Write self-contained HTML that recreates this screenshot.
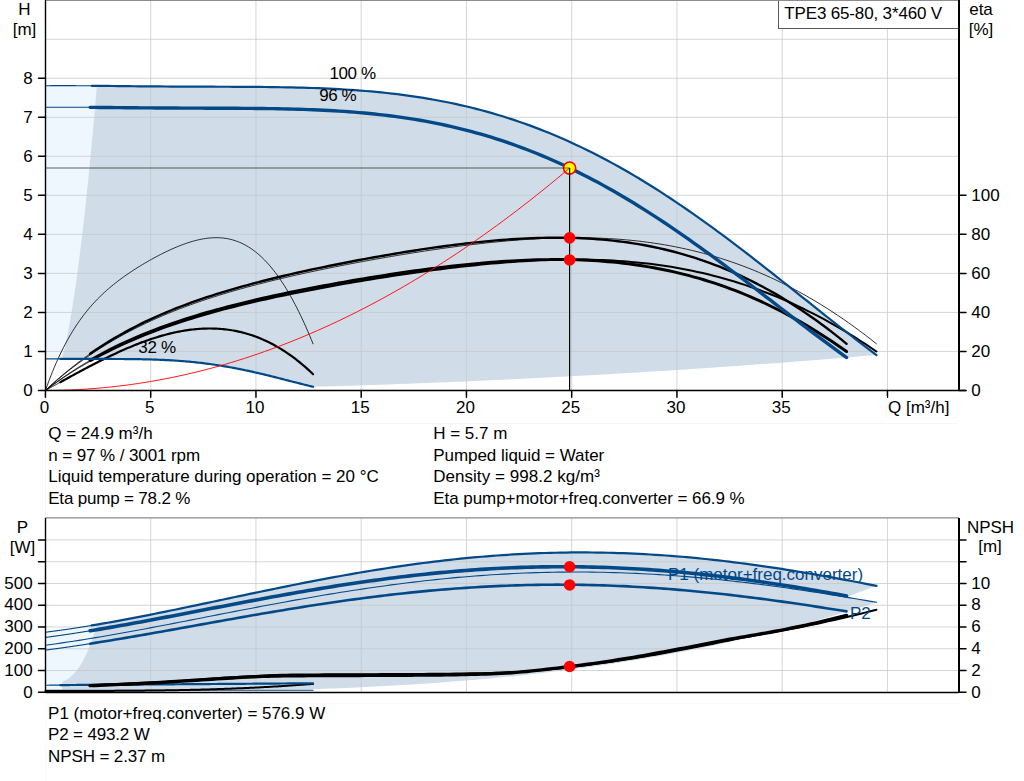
<!DOCTYPE html>
<html><head><meta charset="utf-8"><style>
html,body{margin:0;padding:0;background:#fff;width:1024px;height:781px;overflow:hidden}
svg{display:block}
text{font-family:"Liberation Sans",sans-serif}
</style></head><body>
<svg width="1024" height="781" viewBox="0 0 1024 781">
<path d="M45.45,85.71 L45.45,85.71 L45.88,85.71 L46.31,85.71 L46.74,85.70 L47.18,85.70 L47.61,85.69 L48.04,85.69 L48.47,85.69 L48.90,85.68 L49.33,85.68 L49.77,85.68 L50.20,85.67 L50.63,85.67 L51.06,85.67 L51.49,85.67 L51.92,85.66 L52.36,85.66 L52.79,85.66 L53.22,85.66 L53.65,85.66 L54.08,85.65 L54.51,85.65 L54.95,85.65 L55.38,85.65 L55.81,85.65 L56.24,85.65 L56.67,85.64 L57.10,85.64 L57.54,85.64 L57.97,85.64 L58.40,85.64 L58.83,85.64 L59.26,85.64 L59.69,85.64 L60.12,85.64 L60.56,85.64 L60.99,85.64 L61.42,85.64 L61.85,85.64 L62.28,85.64 L62.71,85.64 L63.15,85.64 L63.58,85.64 L64.01,85.64 L64.44,85.64 L64.87,85.64 L65.30,85.64 L65.74,85.64 L66.17,85.64 L66.60,85.64 L67.03,85.64 L67.46,85.64 L67.89,85.64 L68.33,85.64 L68.76,85.65 L69.19,85.65 L69.62,85.65 L70.05,85.65 L70.48,85.65 L70.92,85.65 L71.35,85.65 L71.78,85.66 L72.21,85.66 L72.64,85.66 L73.07,85.66 L73.50,85.66 L73.94,85.67 L74.37,85.67 L74.80,85.67 L75.23,85.67 L75.66,85.67 L76.09,85.68 L76.53,85.68 L76.96,85.68 L77.39,85.68 L77.82,85.69 L78.25,85.69 L78.68,85.69 L79.12,85.69 L79.55,85.70 L79.98,85.70 L80.41,85.70 L80.84,85.71 L81.27,85.71 L81.71,85.71 L82.14,85.71 L82.57,85.72 L83.00,85.72 L83.43,85.72 L83.86,85.73 L84.30,85.73 L84.73,85.73 L85.16,85.74 L85.59,85.74 L86.02,85.74 L86.45,85.75 L86.88,85.75 L87.32,85.75 L87.75,85.76 L88.18,85.76 L88.61,85.77 L89.04,85.77 L89.47,85.77 L89.91,85.78 L90.34,85.78 L90.77,85.78 L91.20,85.79 L91.63,85.79 L92.06,85.80 L92.50,85.80 L92.93,85.80 L93.36,85.81 L93.79,85.81 L94.22,85.82 L94.65,85.82 L95.09,85.82 L95.52,85.83 L95.95,85.83 L96.38,85.84 L96.81,85.84 L96.81,85.84 L96.22,92.80 L95.63,99.68 L95.04,106.48 L94.45,113.20 L93.86,119.84 L93.27,126.40 L92.68,132.88 L92.09,139.27 L91.50,145.59 L90.91,151.83 L90.32,157.98 L89.73,164.06 L89.14,170.05 L88.55,175.97 L87.96,181.80 L87.37,187.56 L86.78,193.23 L86.19,198.82 L85.60,204.34 L85.01,209.77 L84.42,215.12 L83.83,220.39 L83.24,225.58 L82.65,230.69 L82.06,235.72 L81.47,240.67 L80.88,245.54 L80.29,250.33 L79.70,255.04 L79.11,259.66 L78.51,264.21 L77.92,268.68 L77.33,273.06 L76.74,277.37 L76.15,281.59 L75.56,285.74 L74.97,289.80 L74.38,293.79 L73.79,297.69 L73.20,301.51 L72.61,305.26 L72.02,308.92 L71.43,312.50 L70.84,316.00 L70.25,319.42 L69.66,322.76 L69.07,326.02 L68.48,329.20 L67.89,332.30 L67.30,335.32 L66.71,338.26 L66.12,341.12 L65.53,343.89 L64.94,346.59 L64.35,349.21 L63.76,351.74 L63.17,354.20 L62.58,356.57 L61.99,358.87 L61.99,358.87 L61.12,358.86 L60.25,358.86 L59.38,358.86 L58.51,358.86 L57.64,358.85 L56.77,358.85 L55.90,358.85 L55.02,358.85 L54.15,358.85 L53.28,358.85 L52.41,358.85 L51.54,358.85 L50.67,358.85 L49.80,358.85 L48.93,358.85 L48.06,358.85 L47.19,358.85 L46.32,358.85 L45.45,358.85 Z" fill="#eef6fe"/>
<path d="M96.81,85.84 L103.36,85.91 L109.92,85.98 L116.47,86.05 L123.02,86.12 L129.57,86.18 L136.12,86.25 L142.68,86.31 L149.23,86.37 L155.78,86.42 L162.33,86.47 L168.88,86.52 L175.44,86.55 L181.99,86.59 L188.54,86.62 L195.09,86.65 L201.64,86.67 L208.20,86.69 L214.75,86.71 L221.30,86.74 L227.85,86.76 L234.40,86.79 L240.96,86.82 L247.51,86.86 L254.06,86.91 L260.61,86.96 L267.16,87.03 L273.72,87.12 L280.27,87.21 L286.82,87.33 L293.37,87.47 L299.93,87.63 L306.48,87.81 L313.03,88.02 L319.58,88.27 L326.13,88.54 L332.69,88.85 L339.24,89.19 L345.79,89.57 L352.34,90.00 L358.89,90.47 L365.45,90.98 L372.00,91.54 L378.55,92.16 L385.10,92.82 L391.65,93.55 L398.21,94.33 L404.76,95.17 L411.31,96.08 L417.86,97.05 L424.41,98.08 L430.97,99.19 L437.52,100.36 L444.07,101.61 L450.62,102.94 L457.17,104.34 L463.73,105.82 L470.28,107.38 L476.83,109.03 L483.38,110.75 L489.93,112.56 L496.49,114.46 L503.04,116.45 L509.59,118.52 L516.14,120.69 L522.69,122.94 L529.25,125.29 L535.80,127.73 L542.35,130.26 L548.90,132.88 L555.45,135.60 L562.01,138.42 L568.56,141.33 L575.11,144.33 L581.66,147.42 L588.21,150.62 L594.77,153.90 L601.32,157.28 L607.87,160.75 L614.42,164.31 L620.97,167.97 L627.53,171.71 L634.08,175.54 L640.63,179.46 L647.18,183.47 L653.73,187.56 L660.29,191.73 L666.84,195.98 L673.39,200.31 L679.94,204.72 L686.50,209.20 L693.05,213.76 L699.60,218.38 L706.15,223.06 L712.70,227.82 L719.26,232.62 L725.81,237.49 L732.36,242.41 L738.91,247.38 L745.46,252.39 L752.02,257.45 L758.57,262.54 L765.12,267.67 L771.67,272.82 L778.22,278.00 L784.78,283.20 L791.33,288.41 L797.88,293.63 L804.43,298.86 L810.98,304.09 L817.54,309.30 L824.09,314.51 L830.64,319.70 L837.19,324.87 L843.74,330.00 L850.30,335.10 L856.85,340.16 L863.40,345.17 L869.95,350.12 L876.50,355.01 L876.50,355.01 L866.95,355.82 L857.40,356.62 L847.85,357.41 L838.30,358.19 L828.75,358.96 L819.20,359.73 L809.65,360.48 L800.10,361.22 L790.55,361.96 L781.00,362.68 L771.45,363.40 L761.90,364.11 L752.35,364.80 L742.80,365.49 L733.25,366.17 L723.70,366.84 L714.15,367.50 L704.60,368.15 L695.05,368.79 L685.50,369.43 L675.95,370.05 L666.40,370.66 L656.85,371.27 L647.30,371.86 L637.75,372.45 L628.20,373.02 L618.65,373.59 L609.10,374.15 L599.55,374.69 L590.00,375.23 L580.45,375.76 L570.90,376.28 L561.35,376.79 L551.80,377.29 L542.25,377.78 L532.70,378.27 L523.15,378.74 L513.60,379.20 L504.05,379.66 L494.50,380.10 L484.95,380.54 L475.40,380.96 L465.85,381.38 L456.30,381.79 L446.75,382.19 L437.20,382.57 L427.65,382.95 L418.10,383.32 L408.55,383.68 L399.00,384.04 L389.45,384.38 L379.90,384.71 L370.35,385.03 L360.80,385.35 L351.25,385.65 L341.70,385.95 L332.15,386.23 L322.60,386.51 L313.05,386.78 L313.05,386.78 L310.94,386.27 L308.83,385.75 L306.72,385.24 L304.61,384.71 L302.50,384.18 L300.39,383.65 L298.28,383.11 L296.17,382.58 L294.06,382.04 L291.95,381.50 L289.84,380.95 L287.73,380.41 L285.62,379.87 L283.51,379.33 L281.40,378.79 L279.29,378.25 L277.18,377.72 L275.07,377.19 L272.96,376.66 L270.85,376.14 L268.74,375.62 L266.63,375.10 L264.53,374.59 L262.42,374.09 L260.31,373.59 L258.20,373.09 L256.09,372.61 L253.98,372.13 L251.87,371.66 L249.76,371.19 L247.65,370.74 L245.54,370.29 L243.43,369.85 L241.32,369.41 L239.21,368.99 L237.10,368.57 L234.99,368.17 L232.88,367.77 L230.77,367.38 L228.66,367.00 L226.55,366.63 L224.44,366.27 L222.33,365.92 L220.22,365.58 L218.11,365.25 L216.00,364.93 L213.89,364.62 L211.78,364.32 L209.67,364.03 L207.56,363.74 L205.45,363.47 L203.34,363.21 L201.23,362.96 L199.12,362.71 L197.01,362.48 L194.90,362.26 L192.79,362.04 L190.68,361.83 L188.57,361.64 L186.46,361.45 L184.35,361.27 L182.24,361.10 L180.13,360.94 L178.03,360.79 L175.92,360.64 L173.81,360.50 L171.70,360.37 L169.59,360.25 L167.48,360.14 L165.37,360.03 L163.26,359.93 L161.15,359.83 L159.04,359.75 L156.93,359.67 L154.82,359.59 L152.71,359.52 L150.60,359.46 L148.49,359.40 L146.38,359.35 L144.27,359.30 L142.16,359.25 L140.05,359.21 L137.94,359.18 L135.83,359.15 L133.72,359.12 L131.61,359.09 L129.50,359.07 L127.39,359.05 L125.28,359.04 L123.17,359.02 L121.06,359.01 L118.95,359.00 L116.84,358.99 L114.73,358.98 L112.62,358.98 L110.51,358.97 L108.40,358.97 L106.29,358.97 L104.18,358.96 L102.07,358.96 L99.96,358.96 L97.85,358.96 L95.74,358.95 L93.63,358.95 L91.53,358.95 L89.42,358.94 L87.31,358.94 L85.20,358.94 L83.09,358.93 L80.98,358.93 L78.87,358.92 L76.76,358.92 L74.65,358.91 L72.54,358.90 L70.43,358.90 L68.32,358.89 L66.21,358.88 L64.10,358.87 L61.99,358.87 L61.99,358.87 L62.58,356.57 L63.17,354.20 L63.76,351.74 L64.35,349.21 L64.94,346.59 L65.53,343.89 L66.12,341.12 L66.71,338.26 L67.30,335.32 L67.89,332.30 L68.48,329.20 L69.07,326.02 L69.66,322.76 L70.25,319.42 L70.84,316.00 L71.43,312.50 L72.02,308.92 L72.61,305.26 L73.20,301.51 L73.79,297.69 L74.38,293.79 L74.97,289.80 L75.56,285.74 L76.15,281.59 L76.74,277.37 L77.33,273.06 L77.92,268.68 L78.51,264.21 L79.11,259.66 L79.70,255.04 L80.29,250.33 L80.88,245.54 L81.47,240.67 L82.06,235.72 L82.65,230.69 L83.24,225.58 L83.83,220.39 L84.42,215.12 L85.01,209.77 L85.60,204.34 L86.19,198.82 L86.78,193.23 L87.37,187.56 L87.96,181.80 L88.55,175.97 L89.14,170.05 L89.73,164.06 L90.32,157.98 L90.91,151.83 L91.50,145.59 L92.09,139.27 L92.68,132.88 L93.27,126.40 L93.86,119.84 L94.45,113.20 L95.04,106.48 L95.63,99.68 L96.22,92.80 L96.81,85.84 Z" fill="#d0dce7"/>
<line x1="150.70" y1="0" x2="150.70" y2="390.45" stroke="#c4c8cc" stroke-opacity="0.75" stroke-width="1"/>
<line x1="255.95" y1="0" x2="255.95" y2="390.45" stroke="#c4c8cc" stroke-opacity="0.75" stroke-width="1"/>
<line x1="361.20" y1="0" x2="361.20" y2="390.45" stroke="#c4c8cc" stroke-opacity="0.75" stroke-width="1"/>
<line x1="466.45" y1="0" x2="466.45" y2="390.45" stroke="#c4c8cc" stroke-opacity="0.75" stroke-width="1"/>
<line x1="571.70" y1="0" x2="571.70" y2="390.45" stroke="#c4c8cc" stroke-opacity="0.75" stroke-width="1"/>
<line x1="676.95" y1="0" x2="676.95" y2="390.45" stroke="#c4c8cc" stroke-opacity="0.75" stroke-width="1"/>
<line x1="782.20" y1="0" x2="782.20" y2="390.45" stroke="#c4c8cc" stroke-opacity="0.75" stroke-width="1"/>
<line x1="887.45" y1="0" x2="887.45" y2="390.45" stroke="#c4c8cc" stroke-opacity="0.75" stroke-width="1"/>
<line x1="45" y1="351.43" x2="959" y2="351.43" stroke="#c4c8cc" stroke-opacity="0.75" stroke-width="1"/>
<line x1="45" y1="312.41" x2="959" y2="312.41" stroke="#c4c8cc" stroke-opacity="0.75" stroke-width="1"/>
<line x1="45" y1="273.39" x2="959" y2="273.39" stroke="#c4c8cc" stroke-opacity="0.75" stroke-width="1"/>
<line x1="45" y1="234.37" x2="959" y2="234.37" stroke="#c4c8cc" stroke-opacity="0.75" stroke-width="1"/>
<line x1="45" y1="195.35" x2="959" y2="195.35" stroke="#c4c8cc" stroke-opacity="0.75" stroke-width="1"/>
<line x1="45" y1="156.33" x2="959" y2="156.33" stroke="#c4c8cc" stroke-opacity="0.75" stroke-width="1"/>
<line x1="45" y1="117.31" x2="959" y2="117.31" stroke="#c4c8cc" stroke-opacity="0.75" stroke-width="1"/>
<line x1="45" y1="78.29" x2="959" y2="78.29" stroke="#c4c8cc" stroke-opacity="0.75" stroke-width="1"/>
<line x1="45" y1="39.27" x2="959" y2="39.27" stroke="#c4c8cc" stroke-opacity="0.75" stroke-width="1"/>
<path d="M45.45,390.45 L47.25,385.41 L49.04,380.56 L50.84,375.89 L52.63,371.39 L54.43,367.05 L56.23,362.88 L58.02,358.86 L59.82,354.99 L61.61,351.26 L63.41,347.67 L65.21,344.21 L67.00,340.88 L68.80,337.67 L70.59,334.57 L72.39,331.58 L74.19,328.71 L75.98,325.93 L77.78,323.25 L79.57,320.66 L81.37,318.16 L83.17,315.75 L84.96,313.42 L86.76,311.16 L88.55,308.98 L90.35,306.87 L92.15,304.82 L93.94,302.84 L95.74,300.92 L97.53,299.06 L99.33,297.25 L101.13,295.49 L102.92,293.78 L104.72,292.12 L106.51,290.50 L108.31,288.92 L110.10,287.38 L111.90,285.88 L113.70,284.42 L115.49,282.99 L117.29,281.59 L119.08,280.22 L120.88,278.88 L122.68,277.56 L124.47,276.28 L126.27,275.01 L128.06,273.77 L129.86,272.55 L131.66,271.36 L133.45,270.18 L135.25,269.02 L137.04,267.88 L138.84,266.76 L140.64,265.66 L142.43,264.57 L144.23,263.50 L146.02,262.45 L147.82,261.41 L149.62,260.39 L151.41,259.39 L153.21,258.40 L155.00,257.42 L156.80,256.46 L158.60,255.52 L160.39,254.59 L162.19,253.68 L163.98,252.79 L165.78,251.91 L167.58,251.06 L169.37,250.22 L171.17,249.40 L172.96,248.59 L174.76,247.81 L176.56,247.05 L178.35,246.31 L180.15,245.60 L181.94,244.91 L183.74,244.24 L185.54,243.60 L187.33,242.98 L189.13,242.39 L190.92,241.83 L192.72,241.30 L194.52,240.80 L196.31,240.34 L198.11,239.90 L199.90,239.50 L201.70,239.14 L203.50,238.81 L205.29,238.53 L207.09,238.28 L208.88,238.07 L210.68,237.91 L212.48,237.79 L214.27,237.71 L216.07,237.68 L217.86,237.70 L219.66,237.77 L221.45,237.90 L223.25,238.07 L225.05,238.30 L226.84,238.58 L228.64,238.92 L230.43,239.32 L232.23,239.78 L234.03,240.30 L235.82,240.89 L237.62,241.54 L239.41,242.25 L241.21,243.04 L243.01,243.89 L244.80,244.81 L246.60,245.81 L248.39,246.87 L250.19,248.02 L251.99,249.24 L253.78,250.53 L255.58,251.91 L257.37,253.36 L259.17,254.90 L260.97,256.52 L262.76,258.22 L264.56,260.01 L266.35,261.88 L268.15,263.85 L269.95,265.90 L271.74,268.04 L273.54,270.27 L275.33,272.59 L277.13,275.01 L278.93,277.52 L280.72,280.12 L282.52,282.82 L284.31,285.62 L286.11,288.51 L287.91,291.50 L289.70,294.58 L291.50,297.77 L293.29,301.05 L295.09,304.44 L296.89,307.92 L298.68,311.51 L300.48,315.19 L302.27,318.98 L304.07,322.87 L305.87,326.85 L307.66,330.94 L309.46,335.13 L311.25,339.42 L313.05,343.82" fill="none" stroke="#1a1a1a" stroke-width="0.9" stroke-linecap="round" stroke-linejoin="round"/>
<path d="M45.45,390.45 L45.55,390.39 L45.65,390.34 L45.75,390.28 L45.85,390.23 L45.95,390.17 L46.05,390.12 L46.15,390.06 L46.25,390.01 L46.35,389.95 L46.45,389.90 L46.55,389.84 L46.65,389.79 L46.75,389.73 L46.85,389.67 L46.95,389.62 L47.05,389.56 L47.15,389.51 L47.25,389.45 L47.35,389.40 L47.45,389.34 L47.55,389.29 L47.65,389.23 L47.75,389.18 L47.85,389.12 L47.95,389.06 L48.05,389.01 L48.15,388.95 L48.25,388.90 L48.35,388.84 L48.45,388.79 L48.55,388.73 L48.65,388.68 L48.75,388.62 L48.85,388.57 L48.95,388.51 L49.05,388.45 L49.15,388.40 L49.25,388.34 L49.35,388.29 L49.45,388.23 L49.55,388.18 L49.65,388.12 L49.75,388.07 L49.85,388.01 L49.95,387.96 L50.05,387.90 L50.15,387.84 L50.25,387.79 L50.35,387.73 L50.45,387.68 L50.55,387.62 L50.65,387.57 L50.75,387.51 L50.85,387.46 L50.95,387.40 L51.05,387.35 L51.15,387.29 L51.25,387.23 L51.35,387.18 L51.45,387.12 L51.55,387.07 L51.65,387.01 L51.75,386.96 L51.86,386.90 L51.96,386.85 L52.06,386.79 L52.16,386.73 L52.26,386.68 L52.36,386.62 L52.46,386.57 L52.56,386.51 L52.66,386.46 L52.76,386.40 L52.86,386.35 L52.96,386.29 L53.06,386.24 L53.16,386.18 L53.26,386.12 L53.36,386.07 L53.46,386.01 L53.56,385.96 L53.66,385.90 L53.76,385.85 L53.86,385.79 L53.96,385.74 L54.06,385.68 L54.16,385.63 L54.26,385.57 L54.36,385.51 L54.46,385.46 L54.56,385.40 L54.66,385.35 L54.76,385.29 L54.86,385.24 L54.96,385.18 L55.06,385.13 L55.16,385.07 L55.26,385.02 L55.36,384.96 L55.46,384.90 L55.56,384.85 L55.66,384.79 L55.76,384.74 L55.86,384.68 L55.96,384.63 L56.06,384.57 L56.16,384.52 L56.26,384.46 L56.36,384.41 L56.46,384.35 L56.56,384.29 L56.66,384.24 L56.76,384.18 L56.86,384.13 L56.96,384.07 L57.06,384.02 L57.16,383.96 L57.26,383.91 L57.36,383.85 L57.46,383.80 L57.56,383.74 L57.66,383.68 L57.76,383.63 L57.86,383.57 L57.96,383.52 L58.06,383.46 L58.16,383.41 L58.26,383.35 L58.36,383.30 L58.46,383.24 L58.56,383.19 L58.66,383.13 L58.76,383.08 L58.86,383.02 L58.96,382.96 L59.06,382.91 L59.16,382.85 L59.26,382.80 L59.36,382.74 L59.46,382.69 L59.56,382.63 L59.66,382.58 L59.76,382.52 L59.86,382.47 L59.96,382.41 L60.06,382.36 L60.16,382.30 L60.26,382.24 L60.36,382.19" fill="none" stroke="#000" stroke-width="1.0" stroke-linecap="round" stroke-linejoin="round"/>
<path d="M60.36,382.19 L62.06,381.25 L63.75,380.32 L65.45,379.38 L67.15,378.45 L68.84,377.52 L70.54,376.59 L72.23,375.66 L73.93,374.74 L75.62,373.82 L77.32,372.90 L79.02,371.99 L80.71,371.08 L82.41,370.17 L84.10,369.27 L85.80,368.37 L87.50,367.47 L89.19,366.58 L90.89,365.70 L92.58,364.82 L94.28,363.94 L95.98,363.07 L97.67,362.21 L99.37,361.35 L101.06,360.49 L102.76,359.65 L104.45,358.81 L106.15,357.97 L107.85,357.15 L109.54,356.33 L111.24,355.52 L112.93,354.71 L114.63,353.92 L116.33,353.13 L118.02,352.35 L119.72,351.58 L121.41,350.82 L123.11,350.06 L124.81,349.32 L126.50,348.58 L128.20,347.85 L129.89,347.14 L131.59,346.43 L133.29,345.74 L134.98,345.05 L136.68,344.38 L138.37,343.71 L140.07,343.06 L141.76,342.42 L143.46,341.79 L145.16,341.17 L146.85,340.56 L148.55,339.97 L150.24,339.38 L151.94,338.81 L153.64,338.26 L155.33,337.71 L157.03,337.18 L158.72,336.67 L160.42,336.16 L162.12,335.67 L163.81,335.20 L165.51,334.74 L167.20,334.29 L168.90,333.86 L170.59,333.44 L172.29,333.04 L173.99,332.65 L175.68,332.28 L177.38,331.93 L179.07,331.59 L180.77,331.27 L182.47,330.96 L184.16,330.67 L185.86,330.40 L187.55,330.15 L189.25,329.91 L190.95,329.69 L192.64,329.49 L194.34,329.30 L196.03,329.14 L197.73,328.99 L199.42,328.86 L201.12,328.75 L202.82,328.66 L204.51,328.59 L206.21,328.54 L207.90,328.51 L209.60,328.49 L211.30,328.50 L212.99,328.53 L214.69,328.58 L216.38,328.65 L218.08,328.74 L219.78,328.85 L221.47,328.99 L223.17,329.14 L224.86,329.32 L226.56,329.52 L228.25,329.74 L229.95,329.99 L231.65,330.25 L233.34,330.54 L235.04,330.86 L236.73,331.19 L238.43,331.56 L240.13,331.94 L241.82,332.35 L243.52,332.78 L245.21,333.24 L246.91,333.72 L248.61,334.23 L250.30,334.76 L252.00,335.32 L253.69,335.91 L255.39,336.51 L257.09,337.15 L258.78,337.81 L260.48,338.50 L262.17,339.22 L263.87,339.96 L265.56,340.73 L267.26,341.52 L268.96,342.35 L270.65,343.20 L272.35,344.08 L274.04,344.99 L275.74,345.93 L277.44,346.89 L279.13,347.89 L280.83,348.91 L282.52,349.96 L284.22,351.05 L285.92,352.16 L287.61,353.30 L289.31,354.47 L291.00,355.68 L292.70,356.91 L294.39,358.17 L296.09,359.47 L297.79,360.80 L299.48,362.15 L301.18,363.54 L302.87,364.97 L304.57,366.42 L306.27,367.91 L307.96,369.43 L309.66,370.98 L311.35,372.56 L313.05,374.18" fill="none" stroke="#000" stroke-width="2.2" stroke-linecap="round" stroke-linejoin="round"/>
<path d="M45.45,390.45 L51.03,385.41 L56.61,380.56 L62.18,375.89 L67.76,371.39 L73.34,367.05 L78.92,362.88 L84.49,358.86 L90.07,354.99 L95.65,351.26 L101.23,347.67 L106.80,344.21 L112.38,340.88 L117.96,337.67 L123.54,334.57 L129.11,331.58 L134.69,328.71 L140.27,325.93 L145.85,323.25 L151.42,320.66 L157.00,318.16 L162.58,315.75 L168.16,313.42 L173.73,311.16 L179.31,308.98 L184.89,306.87 L190.47,304.82 L196.04,302.84 L201.62,300.92 L207.20,299.06 L212.78,297.25 L218.35,295.49 L223.93,293.78 L229.51,292.12 L235.09,290.50 L240.66,288.92 L246.24,287.38 L251.82,285.88 L257.40,284.42 L262.97,282.99 L268.55,281.59 L274.13,280.22 L279.71,278.88 L285.28,277.56 L290.86,276.28 L296.44,275.01 L302.02,273.77 L307.59,272.55 L313.17,271.36 L318.75,270.18 L324.33,269.02 L329.90,267.88 L335.48,266.76 L341.06,265.66 L346.64,264.57 L352.21,263.50 L357.79,262.45 L363.37,261.41 L368.95,260.39 L374.53,259.39 L380.10,258.40 L385.68,257.42 L391.26,256.46 L396.84,255.52 L402.41,254.59 L407.99,253.68 L413.57,252.79 L419.15,251.91 L424.72,251.06 L430.30,250.22 L435.88,249.40 L441.46,248.59 L447.03,247.81 L452.61,247.05 L458.19,246.31 L463.77,245.60 L469.34,244.91 L474.92,244.24 L480.50,243.60 L486.08,242.98 L491.65,242.39 L497.23,241.83 L502.81,241.30 L508.39,240.80 L513.96,240.34 L519.54,239.90 L525.12,239.50 L530.70,239.14 L536.27,238.81 L541.85,238.53 L547.43,238.28 L553.01,238.07 L558.58,237.91 L564.16,237.79 L569.74,237.71 L575.32,237.68 L580.89,237.70 L586.47,237.77 L592.05,237.90 L597.63,238.07 L603.20,238.30 L608.78,238.58 L614.36,238.92 L619.94,239.32 L625.51,239.78 L631.09,240.30 L636.67,240.89 L642.25,241.54 L647.82,242.25 L653.40,243.04 L658.98,243.89 L664.56,244.81 L670.13,245.81 L675.71,246.87 L681.29,248.02 L686.87,249.24 L692.45,250.53 L698.02,251.91 L703.60,253.36 L709.18,254.90 L714.76,256.52 L720.33,258.22 L725.91,260.01 L731.49,261.88 L737.07,263.85 L742.64,265.90 L748.22,268.04 L753.80,270.27 L759.38,272.59 L764.95,275.01 L770.53,277.52 L776.11,280.12 L781.69,282.82 L787.26,285.62 L792.84,288.51 L798.42,291.50 L804.00,294.58 L809.57,297.77 L815.15,301.05 L820.73,304.44 L826.31,307.92 L831.88,311.51 L837.46,315.19 L843.04,318.98 L848.62,322.87 L854.19,326.85 L859.77,330.94 L865.35,335.13 L870.93,339.42 L876.50,343.82" fill="none" stroke="#1a1a1a" stroke-width="0.9" stroke-linecap="round" stroke-linejoin="round"/>
<path d="M45.45,390.45 L45.76,390.22 L46.07,389.98 L46.38,389.75 L46.69,389.52 L47.00,389.29 L47.31,389.06 L47.63,388.83 L47.94,388.60 L48.25,388.37 L48.56,388.14 L48.87,387.91 L49.18,387.68 L49.49,387.45 L49.80,387.22 L50.11,387.00 L50.42,386.77 L50.73,386.55 L51.04,386.32 L51.36,386.09 L51.67,385.87 L51.98,385.65 L52.29,385.42 L52.60,385.20 L52.91,384.98 L53.22,384.75 L53.53,384.53 L53.84,384.31 L54.15,384.09 L54.46,383.87 L54.77,383.65 L55.08,383.43 L55.40,383.21 L55.71,382.99 L56.02,382.77 L56.33,382.55 L56.64,382.34 L56.95,382.12 L57.26,381.90 L57.57,381.69 L57.88,381.47 L58.19,381.26 L58.50,381.04 L58.81,380.83 L59.13,380.61 L59.44,380.40 L59.75,380.19 L60.06,379.97 L60.37,379.76 L60.68,379.55 L60.99,379.34 L61.30,379.13 L61.61,378.92 L61.92,378.71 L62.23,378.50 L62.54,378.29 L62.86,378.08 L63.17,377.87 L63.48,377.66 L63.79,377.45 L64.10,377.25 L64.41,377.04 L64.72,376.83 L65.03,376.63 L65.34,376.42 L65.65,376.22 L65.96,376.01 L66.27,375.81 L66.58,375.60 L66.90,375.40 L67.21,375.20 L67.52,374.99 L67.83,374.79 L68.14,374.59 L68.45,374.39 L68.76,374.19 L69.07,373.99 L69.38,373.79 L69.69,373.59 L70.00,373.39 L70.31,373.19 L70.63,372.99 L70.94,372.79 L71.25,372.59 L71.56,372.40 L71.87,372.20 L72.18,372.00 L72.49,371.81 L72.80,371.61 L73.11,371.41 L73.42,371.22 L73.73,371.02 L74.04,370.83 L74.35,370.64 L74.67,370.44 L74.98,370.25 L75.29,370.06 L75.60,369.86 L75.91,369.67 L76.22,369.48 L76.53,369.29 L76.84,369.10 L77.15,368.91 L77.46,368.72 L77.77,368.53 L78.08,368.34 L78.40,368.15 L78.71,367.96 L79.02,367.77 L79.33,367.59 L79.64,367.40 L79.95,367.21 L80.26,367.02 L80.57,366.84 L80.88,366.65 L81.19,366.47 L81.50,366.28 L81.81,366.10 L82.13,365.91 L82.44,365.73 L82.75,365.54 L83.06,365.36 L83.37,365.18 L83.68,365.00 L83.99,364.81 L84.30,364.63 L84.61,364.45 L84.92,364.27 L85.23,364.09 L85.54,363.91 L85.85,363.73 L86.17,363.55 L86.48,363.37 L86.79,363.19 L87.10,363.01 L87.41,362.83 L87.72,362.65 L88.03,362.48 L88.34,362.30 L88.65,362.12 L88.96,361.95 L89.27,361.77 L89.58,361.59 L89.90,361.42 L90.21,361.24 L90.52,361.07 L90.83,360.89 L91.14,360.72 L91.45,360.55 L91.76,360.37" fill="none" stroke="#000" stroke-width="1.0" stroke-linecap="round" stroke-linejoin="round"/>
<path d="M91.76,360.37 L97.03,357.49 L102.29,354.70 L107.56,352.00 L112.83,349.38 L118.09,346.86 L123.36,344.41 L128.63,342.04 L133.89,339.75 L139.16,337.53 L144.43,335.38 L149.69,333.30 L154.96,331.27 L160.23,329.31 L165.49,327.41 L170.76,325.56 L176.03,323.77 L181.29,322.02 L186.56,320.33 L191.83,318.68 L197.09,317.08 L202.36,315.52 L207.63,313.99 L212.89,312.51 L218.16,311.07 L223.43,309.65 L228.70,308.28 L233.96,306.93 L239.23,305.61 L244.50,304.32 L249.76,303.06 L255.03,301.83 L260.30,300.62 L265.56,299.43 L270.83,298.27 L276.10,297.13 L281.36,296.01 L286.63,294.91 L291.90,293.82 L297.16,292.76 L302.43,291.71 L307.70,290.68 L312.96,289.67 L318.23,288.67 L323.50,287.68 L328.76,286.71 L334.03,285.76 L339.30,284.81 L344.56,283.88 L349.83,282.97 L355.10,282.07 L360.36,281.18 L365.63,280.30 L370.90,279.44 L376.16,278.59 L381.43,277.75 L386.70,276.92 L391.96,276.11 L397.23,275.31 L402.50,274.52 L407.76,273.75 L413.03,272.99 L418.30,272.25 L423.56,271.52 L428.83,270.81 L434.10,270.11 L439.36,269.43 L444.63,268.76 L449.90,268.11 L455.16,267.48 L460.43,266.87 L465.70,266.27 L470.97,265.70 L476.23,265.14 L481.50,264.61 L486.77,264.10 L492.03,263.61 L497.30,263.14 L502.57,262.70 L507.83,262.28 L513.10,261.89 L518.37,261.53 L523.63,261.19 L528.90,260.88 L534.17,260.60 L539.43,260.35 L544.70,260.13 L549.97,259.94 L555.23,259.79 L560.50,259.67 L565.77,259.59 L571.03,259.54 L576.30,259.53 L581.57,259.56 L586.83,259.62 L592.10,259.73 L597.37,259.88 L602.63,260.07 L607.90,260.30 L613.17,260.58 L618.43,260.90 L623.70,261.27 L628.97,261.69 L634.23,262.15 L639.50,262.67 L644.77,263.23 L650.03,263.85 L655.30,264.52 L660.57,265.25 L665.83,266.02 L671.10,266.86 L676.37,267.75 L681.63,268.70 L686.90,269.71 L692.17,270.77 L697.43,271.90 L702.70,273.09 L707.97,274.34 L713.24,275.66 L718.50,277.03 L723.77,278.48 L729.04,279.99 L734.30,281.56 L739.57,283.21 L744.84,284.92 L750.10,286.70 L755.37,288.55 L760.64,290.47 L765.90,292.46 L771.17,294.53 L776.44,296.66 L781.70,298.87 L786.97,301.15 L792.24,303.51 L797.50,305.94 L802.77,308.45 L808.04,311.03 L813.30,313.68 L818.57,316.42 L823.84,319.22 L829.10,322.11 L834.37,325.07 L839.64,328.11 L844.90,331.23 L850.17,334.42 L855.44,337.69 L860.70,341.04 L865.97,344.46 L871.24,347.97 L876.50,351.55" fill="none" stroke="#000" stroke-width="2" stroke-linecap="round" stroke-linejoin="round"/>
<path d="M45.45,390.45 L45.75,390.16 L46.05,389.88 L46.35,389.59 L46.65,389.31 L46.95,389.03 L47.25,388.74 L47.55,388.46 L47.85,388.18 L48.15,387.90 L48.45,387.62 L48.75,387.34 L49.05,387.06 L49.35,386.78 L49.64,386.50 L49.94,386.23 L50.24,385.95 L50.54,385.67 L50.84,385.40 L51.14,385.12 L51.44,384.85 L51.74,384.57 L52.04,384.30 L52.34,384.03 L52.64,383.75 L52.94,383.48 L53.24,383.21 L53.54,382.94 L53.84,382.67 L54.14,382.40 L54.44,382.13 L54.74,381.86 L55.04,381.60 L55.34,381.33 L55.64,381.06 L55.94,380.80 L56.24,380.53 L56.54,380.27 L56.84,380.00 L57.14,379.74 L57.43,379.47 L57.73,379.21 L58.03,378.95 L58.33,378.69 L58.63,378.43 L58.93,378.17 L59.23,377.91 L59.53,377.65 L59.83,377.39 L60.13,377.13 L60.43,376.87 L60.73,376.61 L61.03,376.36 L61.33,376.10 L61.63,375.85 L61.93,375.59 L62.23,375.34 L62.53,375.08 L62.83,374.83 L63.13,374.58 L63.43,374.32 L63.73,374.07 L64.03,373.82 L64.33,373.57 L64.63,373.32 L64.93,373.07 L65.22,372.82 L65.52,372.57 L65.82,372.32 L66.12,372.07 L66.42,371.83 L66.72,371.58 L67.02,371.33 L67.32,371.09 L67.62,370.84 L67.92,370.60 L68.22,370.35 L68.52,370.11 L68.82,369.87 L69.12,369.63 L69.42,369.38 L69.72,369.14 L70.02,368.90 L70.32,368.66 L70.62,368.42 L70.92,368.18 L71.22,367.94 L71.52,367.70 L71.82,367.46 L72.12,367.23 L72.42,366.99 L72.72,366.75 L73.01,366.52 L73.31,366.28 L73.61,366.05 L73.91,365.81 L74.21,365.58 L74.51,365.34 L74.81,365.11 L75.11,364.88 L75.41,364.65 L75.71,364.42 L76.01,364.18 L76.31,363.95 L76.61,363.72 L76.91,363.49 L77.21,363.26 L77.51,363.04 L77.81,362.81 L78.11,362.58 L78.41,362.35 L78.71,362.13 L79.01,361.90 L79.31,361.67 L79.61,361.45 L79.91,361.22 L80.21,361.00 L80.51,360.77 L80.80,360.55 L81.10,360.33 L81.40,360.10 L81.70,359.88 L82.00,359.66 L82.30,359.44 L82.60,359.22 L82.90,359.00 L83.20,358.78 L83.50,358.56 L83.80,358.34 L84.10,358.12 L84.40,357.90 L84.70,357.69 L85.00,357.47 L85.30,357.25 L85.60,357.04 L85.90,356.82 L86.20,356.61 L86.50,356.39 L86.80,356.18 L87.10,355.96 L87.40,355.75 L87.70,355.54 L88.00,355.32 L88.30,355.11 L88.59,354.90 L88.89,354.69 L89.19,354.48 L89.49,354.27 L89.79,354.06 L90.09,353.85" fill="none" stroke="#000" stroke-width="1.0" stroke-linecap="round" stroke-linejoin="round"/>
<path d="M90.09,353.85 L95.17,350.36 L100.25,347.00 L105.32,343.75 L110.40,340.62 L115.48,337.59 L120.56,334.67 L125.63,331.84 L130.71,329.11 L135.79,326.47 L140.86,323.92 L145.94,321.45 L151.02,319.07 L156.10,316.76 L161.17,314.52 L166.25,312.35 L171.33,310.26 L176.40,308.22 L181.48,306.25 L186.56,304.33 L191.64,302.47 L196.71,300.67 L201.79,298.91 L206.87,297.21 L211.94,295.55 L217.02,293.93 L222.10,292.36 L227.18,290.82 L232.25,289.32 L237.33,287.86 L242.41,286.43 L247.48,285.04 L252.56,283.67 L257.64,282.33 L262.72,281.03 L267.79,279.74 L272.87,278.49 L277.95,277.25 L283.02,276.04 L288.10,274.85 L293.18,273.68 L298.26,272.53 L303.33,271.40 L308.41,270.29 L313.49,269.19 L318.56,268.12 L323.64,267.05 L328.72,266.01 L333.80,264.98 L338.87,263.96 L343.95,262.96 L349.03,261.97 L354.10,261.00 L359.18,260.04 L364.26,259.09 L369.34,258.16 L374.41,257.25 L379.49,256.34 L384.57,255.45 L389.64,254.58 L394.72,253.72 L399.80,252.88 L404.88,252.05 L409.95,251.23 L415.03,250.44 L420.11,249.66 L425.18,248.89 L430.26,248.15 L435.34,247.42 L440.42,246.71 L445.49,246.02 L450.57,245.36 L455.65,244.71 L460.72,244.09 L465.80,243.48 L470.88,242.91 L475.96,242.35 L481.03,241.83 L486.11,241.33 L491.19,240.85 L496.26,240.41 L501.34,239.99 L506.42,239.61 L511.50,239.25 L516.57,238.93 L521.65,238.65 L526.73,238.40 L531.80,238.18 L536.88,238.00 L541.96,237.86 L547.04,237.76 L552.11,237.70 L557.19,237.68 L562.27,237.71 L567.34,237.78 L572.42,237.90 L577.50,238.06 L582.58,238.27 L587.65,238.53 L592.73,238.85 L597.81,239.21 L602.88,239.63 L607.96,240.10 L613.04,240.63 L618.11,241.21 L623.19,241.85 L628.27,242.56 L633.35,243.32 L638.42,244.14 L643.50,245.03 L648.58,245.99 L653.65,247.00 L658.73,248.09 L663.81,249.24 L668.89,250.47 L673.96,251.76 L679.04,253.12 L684.12,254.56 L689.19,256.07 L694.27,257.65 L699.35,259.31 L704.43,261.05 L709.50,262.86 L714.58,264.76 L719.66,266.73 L724.73,268.78 L729.81,270.91 L734.89,273.13 L739.97,275.43 L745.04,277.81 L750.12,280.28 L755.20,282.83 L760.27,285.47 L765.35,288.19 L770.43,291.00 L775.51,293.90 L780.58,296.88 L785.66,299.95 L790.74,303.12 L795.81,306.37 L800.89,309.71 L805.97,313.14 L811.05,316.66 L816.12,320.27 L821.20,323.97 L826.28,327.76 L831.35,331.64 L836.43,335.61 L841.51,339.67 L846.59,343.82" fill="none" stroke="#000" stroke-width="2.4" stroke-linecap="round" stroke-linejoin="round"/>
<path d="M45.45,390.45 L45.75,390.22 L46.05,389.98 L46.35,389.75 L46.65,389.52 L46.95,389.29 L47.25,389.06 L47.55,388.83 L47.85,388.60 L48.15,388.37 L48.45,388.14 L48.75,387.91 L49.05,387.68 L49.35,387.45 L49.64,387.22 L49.94,387.00 L50.24,386.77 L50.54,386.55 L50.84,386.32 L51.14,386.09 L51.44,385.87 L51.74,385.65 L52.04,385.42 L52.34,385.20 L52.64,384.98 L52.94,384.75 L53.24,384.53 L53.54,384.31 L53.84,384.09 L54.14,383.87 L54.44,383.65 L54.74,383.43 L55.04,383.21 L55.34,382.99 L55.64,382.77 L55.94,382.55 L56.24,382.34 L56.54,382.12 L56.84,381.90 L57.14,381.69 L57.43,381.47 L57.73,381.26 L58.03,381.04 L58.33,380.83 L58.63,380.61 L58.93,380.40 L59.23,380.19 L59.53,379.97 L59.83,379.76 L60.13,379.55 L60.43,379.34 L60.73,379.13 L61.03,378.92 L61.33,378.71 L61.63,378.50 L61.93,378.29 L62.23,378.08 L62.53,377.87 L62.83,377.66 L63.13,377.45 L63.43,377.25 L63.73,377.04 L64.03,376.83 L64.33,376.63 L64.63,376.42 L64.93,376.22 L65.22,376.01 L65.52,375.81 L65.82,375.60 L66.12,375.40 L66.42,375.20 L66.72,374.99 L67.02,374.79 L67.32,374.59 L67.62,374.39 L67.92,374.19 L68.22,373.99 L68.52,373.79 L68.82,373.59 L69.12,373.39 L69.42,373.19 L69.72,372.99 L70.02,372.79 L70.32,372.59 L70.62,372.40 L70.92,372.20 L71.22,372.00 L71.52,371.81 L71.82,371.61 L72.12,371.41 L72.42,371.22 L72.72,371.02 L73.01,370.83 L73.31,370.64 L73.61,370.44 L73.91,370.25 L74.21,370.06 L74.51,369.86 L74.81,369.67 L75.11,369.48 L75.41,369.29 L75.71,369.10 L76.01,368.91 L76.31,368.72 L76.61,368.53 L76.91,368.34 L77.21,368.15 L77.51,367.96 L77.81,367.77 L78.11,367.59 L78.41,367.40 L78.71,367.21 L79.01,367.02 L79.31,366.84 L79.61,366.65 L79.91,366.47 L80.21,366.28 L80.51,366.10 L80.80,365.91 L81.10,365.73 L81.40,365.54 L81.70,365.36 L82.00,365.18 L82.30,365.00 L82.60,364.81 L82.90,364.63 L83.20,364.45 L83.50,364.27 L83.80,364.09 L84.10,363.91 L84.40,363.73 L84.70,363.55 L85.00,363.37 L85.30,363.19 L85.60,363.01 L85.90,362.83 L86.20,362.65 L86.50,362.48 L86.80,362.30 L87.10,362.12 L87.40,361.95 L87.70,361.77 L88.00,361.59 L88.30,361.42 L88.59,361.24 L88.89,361.07 L89.19,360.89 L89.49,360.72 L89.79,360.55 L90.09,360.37" fill="none" stroke="#000" stroke-width="1.0" stroke-linecap="round" stroke-linejoin="round"/>
<path d="M90.09,360.37 L95.17,357.49 L100.25,354.70 L105.32,352.00 L110.40,349.38 L115.48,346.86 L120.56,344.41 L125.63,342.04 L130.71,339.75 L135.79,337.53 L140.86,335.38 L145.94,333.30 L151.02,331.27 L156.10,329.31 L161.17,327.41 L166.25,325.56 L171.33,323.77 L176.40,322.02 L181.48,320.33 L186.56,318.68 L191.64,317.08 L196.71,315.52 L201.79,313.99 L206.87,312.51 L211.94,311.07 L217.02,309.65 L222.10,308.28 L227.18,306.93 L232.25,305.61 L237.33,304.32 L242.41,303.06 L247.48,301.83 L252.56,300.62 L257.64,299.43 L262.72,298.27 L267.79,297.13 L272.87,296.01 L277.95,294.91 L283.02,293.82 L288.10,292.76 L293.18,291.71 L298.26,290.68 L303.33,289.67 L308.41,288.67 L313.49,287.68 L318.56,286.71 L323.64,285.76 L328.72,284.81 L333.80,283.88 L338.87,282.97 L343.95,282.07 L349.03,281.18 L354.10,280.30 L359.18,279.44 L364.26,278.59 L369.34,277.75 L374.41,276.92 L379.49,276.11 L384.57,275.31 L389.64,274.52 L394.72,273.75 L399.80,272.99 L404.88,272.25 L409.95,271.52 L415.03,270.81 L420.11,270.11 L425.18,269.43 L430.26,268.76 L435.34,268.11 L440.42,267.48 L445.49,266.87 L450.57,266.27 L455.65,265.70 L460.72,265.14 L465.80,264.61 L470.88,264.10 L475.96,263.61 L481.03,263.14 L486.11,262.70 L491.19,262.28 L496.26,261.89 L501.34,261.53 L506.42,261.19 L511.50,260.88 L516.57,260.60 L521.65,260.35 L526.73,260.13 L531.80,259.94 L536.88,259.79 L541.96,259.67 L547.04,259.59 L552.11,259.54 L557.19,259.53 L562.27,259.56 L567.34,259.62 L572.42,259.73 L577.50,259.88 L582.58,260.07 L587.65,260.30 L592.73,260.58 L597.81,260.90 L602.88,261.27 L607.96,261.69 L613.04,262.15 L618.11,262.67 L623.19,263.23 L628.27,263.85 L633.35,264.52 L638.42,265.25 L643.50,266.02 L648.58,266.86 L653.65,267.75 L658.73,268.70 L663.81,269.71 L668.89,270.77 L673.96,271.90 L679.04,273.09 L684.12,274.34 L689.19,275.66 L694.27,277.03 L699.35,278.48 L704.43,279.99 L709.50,281.56 L714.58,283.21 L719.66,284.92 L724.73,286.70 L729.81,288.55 L734.89,290.47 L739.97,292.46 L745.04,294.53 L750.12,296.66 L755.20,298.87 L760.27,301.15 L765.35,303.51 L770.43,305.94 L775.51,308.45 L780.58,311.03 L785.66,313.68 L790.74,316.42 L795.81,319.22 L800.89,322.11 L805.97,325.07 L811.05,328.11 L816.12,331.23 L821.20,334.42 L826.28,337.69 L831.35,341.04 L836.43,344.46 L841.51,347.97 L846.59,351.55" fill="none" stroke="#000" stroke-width="2.9" stroke-linecap="round" stroke-linejoin="round"/>
<path d="M45.45,358.85 L45.55,358.85 L45.65,358.85 L45.75,358.85 L45.85,358.85 L45.95,358.85 L46.05,358.85 L46.15,358.85 L46.25,358.85 L46.35,358.85 L46.45,358.85 L46.55,358.85 L46.65,358.85 L46.75,358.85 L46.85,358.85 L46.95,358.85 L47.05,358.85 L47.15,358.85 L47.25,358.85 L47.35,358.85 L47.45,358.85 L47.55,358.85 L47.65,358.85 L47.75,358.85 L47.85,358.85 L47.95,358.85 L48.05,358.85 L48.15,358.85 L48.25,358.85 L48.35,358.85 L48.45,358.85 L48.55,358.85 L48.65,358.85 L48.75,358.85 L48.85,358.85 L48.95,358.85 L49.05,358.85 L49.15,358.85 L49.25,358.85 L49.35,358.85 L49.45,358.85 L49.55,358.85 L49.65,358.85 L49.75,358.85 L49.85,358.85 L49.95,358.85 L50.05,358.85 L50.15,358.85 L50.25,358.85 L50.35,358.85 L50.45,358.85 L50.55,358.85 L50.65,358.85 L50.75,358.85 L50.85,358.85 L50.95,358.85 L51.05,358.85 L51.15,358.85 L51.25,358.85 L51.35,358.85 L51.45,358.85 L51.55,358.85 L51.65,358.85 L51.75,358.85 L51.86,358.85 L51.96,358.85 L52.06,358.85 L52.16,358.85 L52.26,358.85 L52.36,358.85 L52.46,358.85 L52.56,358.85 L52.66,358.85 L52.76,358.85 L52.86,358.85 L52.96,358.85 L53.06,358.85 L53.16,358.85 L53.26,358.85 L53.36,358.85 L53.46,358.85 L53.56,358.85 L53.66,358.85 L53.76,358.85 L53.86,358.85 L53.96,358.85 L54.06,358.85 L54.16,358.85 L54.26,358.85 L54.36,358.85 L54.46,358.85 L54.56,358.85 L54.66,358.85 L54.76,358.85 L54.86,358.85 L54.96,358.85 L55.06,358.85 L55.16,358.85 L55.26,358.85 L55.36,358.85 L55.46,358.85 L55.56,358.85 L55.66,358.85 L55.76,358.85 L55.86,358.85 L55.96,358.85 L56.06,358.85 L56.16,358.85 L56.26,358.85 L56.36,358.85 L56.46,358.85 L56.56,358.85 L56.66,358.85 L56.76,358.85 L56.86,358.85 L56.96,358.85 L57.06,358.85 L57.16,358.85 L57.26,358.85 L57.36,358.85 L57.46,358.85 L57.56,358.85 L57.66,358.85 L57.76,358.86 L57.86,358.86 L57.96,358.86 L58.06,358.86 L58.16,358.86 L58.26,358.86 L58.36,358.86 L58.46,358.86 L58.56,358.86 L58.66,358.86 L58.76,358.86 L58.86,358.86 L58.96,358.86 L59.06,358.86 L59.16,358.86 L59.26,358.86 L59.36,358.86 L59.46,358.86 L59.56,358.86 L59.66,358.86 L59.76,358.86 L59.86,358.86 L59.96,358.86 L60.06,358.86 L60.16,358.86 L60.26,358.86 L60.36,358.86" fill="none" stroke="#034987" stroke-width="1.1" stroke-linecap="round" stroke-linejoin="round"/>
<path d="M60.36,358.86 L62.06,358.87 L63.75,358.87 L65.45,358.88 L67.15,358.88 L68.84,358.89 L70.54,358.90 L72.23,358.90 L73.93,358.91 L75.62,358.91 L77.32,358.92 L79.02,358.92 L80.71,358.93 L82.41,358.93 L84.10,358.93 L85.80,358.94 L87.50,358.94 L89.19,358.94 L90.89,358.95 L92.58,358.95 L94.28,358.95 L95.98,358.95 L97.67,358.95 L99.37,358.96 L101.06,358.96 L102.76,358.96 L104.45,358.96 L106.15,358.96 L107.85,358.97 L109.54,358.97 L111.24,358.97 L112.93,358.98 L114.63,358.98 L116.33,358.99 L118.02,359.00 L119.72,359.00 L121.41,359.01 L123.11,359.02 L124.81,359.03 L126.50,359.04 L128.20,359.06 L129.89,359.08 L131.59,359.09 L133.29,359.11 L134.98,359.13 L136.68,359.16 L138.37,359.19 L140.07,359.21 L141.76,359.25 L143.46,359.28 L145.16,359.32 L146.85,359.36 L148.55,359.40 L150.24,359.45 L151.94,359.50 L153.64,359.55 L155.33,359.61 L157.03,359.67 L158.72,359.73 L160.42,359.80 L162.12,359.88 L163.81,359.95 L165.51,360.04 L167.20,360.12 L168.90,360.21 L170.59,360.31 L172.29,360.41 L173.99,360.51 L175.68,360.62 L177.38,360.74 L179.07,360.86 L180.77,360.99 L182.47,361.12 L184.16,361.25 L185.86,361.40 L187.55,361.55 L189.25,361.70 L190.95,361.86 L192.64,362.03 L194.34,362.20 L196.03,362.37 L197.73,362.56 L199.42,362.75 L201.12,362.94 L202.82,363.15 L204.51,363.35 L206.21,363.57 L207.90,363.79 L209.60,364.02 L211.30,364.25 L212.99,364.49 L214.69,364.74 L216.38,364.99 L218.08,365.25 L219.78,365.51 L221.47,365.78 L223.17,366.06 L224.86,366.35 L226.56,366.64 L228.25,366.93 L229.95,367.23 L231.65,367.54 L233.34,367.86 L235.04,368.18 L236.73,368.50 L238.43,368.84 L240.13,369.17 L241.82,369.52 L243.52,369.86 L245.21,370.22 L246.91,370.58 L248.61,370.94 L250.30,371.31 L252.00,371.69 L253.69,372.07 L255.39,372.45 L257.09,372.84 L258.78,373.23 L260.48,373.63 L262.17,374.03 L263.87,374.43 L265.56,374.84 L267.26,375.25 L268.96,375.67 L270.65,376.09 L272.35,376.51 L274.04,376.93 L275.74,377.36 L277.44,377.78 L279.13,378.21 L280.83,378.64 L282.52,379.08 L284.22,379.51 L285.92,379.95 L287.61,380.38 L289.31,380.82 L291.00,381.25 L292.70,381.69 L294.39,382.12 L296.09,382.56 L297.79,382.99 L299.48,383.42 L301.18,383.85 L302.87,384.28 L304.57,384.70 L306.27,385.12 L307.96,385.54 L309.66,385.96 L311.35,386.37 L313.05,386.78" fill="none" stroke="#034987" stroke-width="2.2" stroke-linecap="round" stroke-linejoin="round"/>
<path d="M45.45,85.71 L45.76,85.71 L46.07,85.71 L46.38,85.71 L46.69,85.70 L47.00,85.70 L47.31,85.70 L47.63,85.69 L47.94,85.69 L48.25,85.69 L48.56,85.69 L48.87,85.68 L49.18,85.68 L49.49,85.68 L49.80,85.68 L50.11,85.68 L50.42,85.67 L50.73,85.67 L51.04,85.67 L51.36,85.67 L51.67,85.67 L51.98,85.66 L52.29,85.66 L52.60,85.66 L52.91,85.66 L53.22,85.66 L53.53,85.66 L53.84,85.65 L54.15,85.65 L54.46,85.65 L54.77,85.65 L55.08,85.65 L55.40,85.65 L55.71,85.65 L56.02,85.65 L56.33,85.65 L56.64,85.64 L56.95,85.64 L57.26,85.64 L57.57,85.64 L57.88,85.64 L58.19,85.64 L58.50,85.64 L58.81,85.64 L59.13,85.64 L59.44,85.64 L59.75,85.64 L60.06,85.64 L60.37,85.64 L60.68,85.64 L60.99,85.64 L61.30,85.64 L61.61,85.64 L61.92,85.64 L62.23,85.64 L62.54,85.64 L62.86,85.64 L63.17,85.64 L63.48,85.64 L63.79,85.64 L64.10,85.64 L64.41,85.64 L64.72,85.64 L65.03,85.64 L65.34,85.64 L65.65,85.64 L65.96,85.64 L66.27,85.64 L66.58,85.64 L66.90,85.64 L67.21,85.64 L67.52,85.64 L67.83,85.64 L68.14,85.64 L68.45,85.65 L68.76,85.65 L69.07,85.65 L69.38,85.65 L69.69,85.65 L70.00,85.65 L70.31,85.65 L70.63,85.65 L70.94,85.65 L71.25,85.65 L71.56,85.66 L71.87,85.66 L72.18,85.66 L72.49,85.66 L72.80,85.66 L73.11,85.66 L73.42,85.66 L73.73,85.67 L74.04,85.67 L74.35,85.67 L74.67,85.67 L74.98,85.67 L75.29,85.67 L75.60,85.67 L75.91,85.68 L76.22,85.68 L76.53,85.68 L76.84,85.68 L77.15,85.68 L77.46,85.68 L77.77,85.69 L78.08,85.69 L78.40,85.69 L78.71,85.69 L79.02,85.69 L79.33,85.70 L79.64,85.70 L79.95,85.70 L80.26,85.70 L80.57,85.70 L80.88,85.71 L81.19,85.71 L81.50,85.71 L81.81,85.71 L82.13,85.71 L82.44,85.72 L82.75,85.72 L83.06,85.72 L83.37,85.72 L83.68,85.73 L83.99,85.73 L84.30,85.73 L84.61,85.73 L84.92,85.74 L85.23,85.74 L85.54,85.74 L85.85,85.74 L86.17,85.75 L86.48,85.75 L86.79,85.75 L87.10,85.75 L87.41,85.76 L87.72,85.76 L88.03,85.76 L88.34,85.76 L88.65,85.77 L88.96,85.77 L89.27,85.77 L89.58,85.77 L89.90,85.78 L90.21,85.78 L90.52,85.78 L90.83,85.79 L91.14,85.79 L91.45,85.79 L91.76,85.79" fill="none" stroke="#034987" stroke-width="1.1" stroke-linecap="round" stroke-linejoin="round"/>
<path d="M91.76,85.79 L97.03,85.84 L102.29,85.90 L107.56,85.95 L112.83,86.01 L118.09,86.06 L123.36,86.12 L128.63,86.17 L133.89,86.23 L139.16,86.28 L144.43,86.33 L149.69,86.37 L154.96,86.42 L160.23,86.46 L165.49,86.49 L170.76,86.53 L176.03,86.56 L181.29,86.58 L186.56,86.61 L191.83,86.63 L197.09,86.65 L202.36,86.67 L207.63,86.69 L212.89,86.71 L218.16,86.73 L223.43,86.74 L228.70,86.76 L233.96,86.79 L239.23,86.81 L244.50,86.84 L249.76,86.87 L255.03,86.91 L260.30,86.96 L265.56,87.01 L270.83,87.08 L276.10,87.15 L281.36,87.23 L286.63,87.33 L291.90,87.44 L297.16,87.56 L302.43,87.70 L307.70,87.85 L312.96,88.02 L318.23,88.21 L323.50,88.43 L328.76,88.66 L334.03,88.91 L339.30,89.19 L344.56,89.50 L349.83,89.83 L355.10,90.19 L360.36,90.58 L365.63,90.99 L370.90,91.44 L376.16,91.93 L381.43,92.44 L386.70,93.00 L391.96,93.58 L397.23,94.21 L402.50,94.87 L407.76,95.58 L413.03,96.32 L418.30,97.11 L423.56,97.94 L428.83,98.82 L434.10,99.74 L439.36,100.71 L444.63,101.72 L449.90,102.79 L455.16,103.90 L460.43,105.07 L465.70,106.28 L470.97,107.55 L476.23,108.87 L481.50,110.25 L486.77,111.68 L492.03,113.16 L497.30,114.70 L502.57,116.30 L507.83,117.96 L513.10,119.67 L518.37,121.44 L523.63,123.27 L528.90,125.16 L534.17,127.11 L539.43,129.12 L544.70,131.19 L549.97,133.32 L555.23,135.51 L560.50,137.76 L565.77,140.07 L571.03,142.45 L576.30,144.88 L581.57,147.38 L586.83,149.94 L592.10,152.55 L597.37,155.23 L602.63,157.97 L607.90,160.77 L613.17,163.62 L618.43,166.54 L623.70,169.51 L628.97,172.54 L634.23,175.63 L639.50,178.78 L644.77,181.98 L650.03,185.24 L655.30,188.55 L660.57,191.91 L665.83,195.33 L671.10,198.79 L676.37,202.31 L681.63,205.87 L686.90,209.48 L692.17,213.14 L697.43,216.84 L702.70,220.59 L707.97,224.38 L713.24,228.20 L718.50,232.07 L723.77,235.97 L729.04,239.91 L734.30,243.88 L739.57,247.88 L744.84,251.91 L750.10,255.97 L755.37,260.05 L760.64,264.15 L765.90,268.28 L771.17,272.42 L776.44,276.58 L781.70,280.76 L786.97,284.94 L792.24,289.13 L797.50,293.33 L802.77,297.53 L808.04,301.73 L813.30,305.93 L818.57,310.13 L823.84,314.31 L829.10,318.49 L834.37,322.64 L839.64,326.79 L844.90,330.91 L850.17,335.00 L855.44,339.07 L860.70,343.11 L865.97,347.11 L871.24,351.08 L876.50,355.01" fill="none" stroke="#034987" stroke-width="2.2" stroke-linecap="round" stroke-linejoin="round"/>
<path d="M45.45,107.26 L45.75,107.26 L46.05,107.25 L46.35,107.25 L46.65,107.25 L46.95,107.25 L47.25,107.24 L47.55,107.24 L47.85,107.24 L48.15,107.24 L48.45,107.23 L48.75,107.23 L49.05,107.23 L49.35,107.23 L49.64,107.23 L49.94,107.22 L50.24,107.22 L50.54,107.22 L50.84,107.22 L51.14,107.22 L51.44,107.22 L51.74,107.21 L52.04,107.21 L52.34,107.21 L52.64,107.21 L52.94,107.21 L53.24,107.21 L53.54,107.20 L53.84,107.20 L54.14,107.20 L54.44,107.20 L54.74,107.20 L55.04,107.20 L55.34,107.20 L55.64,107.20 L55.94,107.20 L56.24,107.20 L56.54,107.19 L56.84,107.19 L57.14,107.19 L57.43,107.19 L57.73,107.19 L58.03,107.19 L58.33,107.19 L58.63,107.19 L58.93,107.19 L59.23,107.19 L59.53,107.19 L59.83,107.19 L60.13,107.19 L60.43,107.19 L60.73,107.19 L61.03,107.19 L61.33,107.19 L61.63,107.19 L61.93,107.19 L62.23,107.19 L62.53,107.19 L62.83,107.19 L63.13,107.19 L63.43,107.19 L63.73,107.19 L64.03,107.19 L64.33,107.19 L64.63,107.19 L64.93,107.19 L65.22,107.19 L65.52,107.19 L65.82,107.19 L66.12,107.19 L66.42,107.19 L66.72,107.19 L67.02,107.19 L67.32,107.20 L67.62,107.20 L67.92,107.20 L68.22,107.20 L68.52,107.20 L68.82,107.20 L69.12,107.20 L69.42,107.20 L69.72,107.20 L70.02,107.20 L70.32,107.20 L70.62,107.21 L70.92,107.21 L71.22,107.21 L71.52,107.21 L71.82,107.21 L72.12,107.21 L72.42,107.21 L72.72,107.21 L73.01,107.22 L73.31,107.22 L73.61,107.22 L73.91,107.22 L74.21,107.22 L74.51,107.22 L74.81,107.22 L75.11,107.23 L75.41,107.23 L75.71,107.23 L76.01,107.23 L76.31,107.23 L76.61,107.23 L76.91,107.24 L77.21,107.24 L77.51,107.24 L77.81,107.24 L78.11,107.24 L78.41,107.25 L78.71,107.25 L79.01,107.25 L79.31,107.25 L79.61,107.25 L79.91,107.25 L80.21,107.26 L80.51,107.26 L80.80,107.26 L81.10,107.26 L81.40,107.27 L81.70,107.27 L82.00,107.27 L82.30,107.27 L82.60,107.27 L82.90,107.28 L83.20,107.28 L83.50,107.28 L83.80,107.28 L84.10,107.28 L84.40,107.29 L84.70,107.29 L85.00,107.29 L85.30,107.29 L85.60,107.30 L85.90,107.30 L86.20,107.30 L86.50,107.30 L86.80,107.31 L87.10,107.31 L87.40,107.31 L87.70,107.31 L88.00,107.32 L88.30,107.32 L88.59,107.32 L88.89,107.32 L89.19,107.33 L89.49,107.33 L89.79,107.33 L90.09,107.33" fill="none" stroke="#034987" stroke-width="1.1" stroke-linecap="round" stroke-linejoin="round"/>
<path d="M90.09,107.33 L95.17,107.38 L100.25,107.43 L105.32,107.48 L110.40,107.53 L115.48,107.59 L120.56,107.64 L125.63,107.69 L130.71,107.74 L135.79,107.79 L140.86,107.83 L145.94,107.87 L151.02,107.91 L156.10,107.95 L161.17,107.98 L166.25,108.02 L171.33,108.04 L176.40,108.07 L181.48,108.09 L186.56,108.11 L191.64,108.13 L196.71,108.15 L201.79,108.17 L206.87,108.18 L211.94,108.20 L217.02,108.22 L222.10,108.24 L227.18,108.26 L232.25,108.28 L237.33,108.31 L242.41,108.34 L247.48,108.37 L252.56,108.42 L257.64,108.47 L262.72,108.53 L267.79,108.59 L272.87,108.67 L277.95,108.76 L283.02,108.86 L288.10,108.97 L293.18,109.10 L298.26,109.25 L303.33,109.41 L308.41,109.58 L313.49,109.78 L318.56,110.00 L323.64,110.23 L328.72,110.49 L333.80,110.78 L338.87,111.08 L343.95,111.42 L349.03,111.78 L354.10,112.17 L359.18,112.59 L364.26,113.03 L369.34,113.51 L374.41,114.03 L379.49,114.57 L384.57,115.15 L389.64,115.77 L394.72,116.43 L399.80,117.12 L404.88,117.85 L409.95,118.63 L415.03,119.44 L420.11,120.30 L425.18,121.20 L430.26,122.14 L435.34,123.13 L440.42,124.16 L445.49,125.25 L450.57,126.37 L455.65,127.55 L460.72,128.78 L465.80,130.06 L470.88,131.39 L475.96,132.77 L481.03,134.20 L486.11,135.68 L491.19,137.22 L496.26,138.81 L501.34,140.46 L506.42,142.16 L511.50,143.92 L516.57,145.73 L521.65,147.60 L526.73,149.52 L531.80,151.50 L536.88,153.53 L541.96,155.63 L547.04,157.78 L552.11,159.98 L557.19,162.25 L562.27,164.56 L567.34,166.94 L572.42,169.37 L577.50,171.86 L582.58,174.41 L587.65,177.01 L592.73,179.66 L597.81,182.37 L602.88,185.13 L607.96,187.95 L613.04,190.82 L618.11,193.75 L623.19,196.72 L628.27,199.75 L633.35,202.82 L638.42,205.95 L643.50,209.12 L648.58,212.34 L653.65,215.61 L658.73,218.92 L663.81,222.28 L668.89,225.68 L673.96,229.12 L679.04,232.60 L684.12,236.12 L689.19,239.67 L694.27,243.27 L699.35,246.89 L704.43,250.55 L709.50,254.24 L714.58,257.96 L719.66,261.71 L724.73,265.48 L729.81,269.27 L734.89,273.08 L739.97,276.92 L745.04,280.77 L750.12,284.63 L755.20,288.51 L760.27,292.40 L765.35,296.30 L770.43,300.20 L775.51,304.10 L780.58,308.01 L785.66,311.91 L790.74,315.81 L795.81,319.70 L800.89,323.57 L805.97,327.44 L811.05,331.29 L816.12,335.12 L821.20,338.92 L826.28,342.71 L831.35,346.46 L836.43,350.18 L841.51,353.86 L846.59,357.51" fill="none" stroke="#034987" stroke-width="3.4" stroke-linecap="round" stroke-linejoin="round"/>
<circle cx="569.60" cy="168.04" r="6.1" fill="#ffff00" stroke="#ff0000" stroke-width="1.6"/>
<line x1="45" y1="168.04" x2="569.60" y2="168.04" stroke="#000" stroke-opacity="0.3" stroke-width="2"/>
<path d="M45.45,390.45 L52.08,390.41 L58.72,390.31 L65.35,390.13 L71.99,389.88 L78.62,389.56 L85.26,389.17 L91.89,388.70 L98.53,388.17 L105.16,387.56 L111.80,386.89 L118.43,386.14 L125.07,385.32 L131.70,384.43 L138.34,383.47 L144.97,382.43 L151.61,381.33 L158.24,380.15 L164.88,378.90 L171.51,377.58 L178.14,376.19 L184.78,374.73 L191.41,373.20 L198.05,371.60 L204.68,369.92 L211.32,368.18 L217.95,366.36 L224.59,364.47 L231.22,362.51 L237.86,360.48 L244.49,358.38 L251.13,356.20 L257.76,353.96 L264.40,351.64 L271.03,349.25 L277.67,346.79 L284.30,344.26 L290.94,341.66 L297.57,338.99 L304.21,336.25 L310.84,333.43 L317.47,330.54 L324.11,327.59 L330.74,324.56 L337.38,321.46 L344.01,318.28 L350.65,315.04 L357.28,311.73 L363.92,308.34 L370.55,304.88 L377.19,301.36 L383.82,297.76 L390.46,294.09 L397.09,290.34 L403.73,286.53 L410.36,282.65 L417.00,278.69 L423.63,274.66 L430.27,270.57 L436.90,266.40 L443.53,262.15 L450.17,257.84 L456.80,253.46 L463.44,249.00 L470.07,244.48 L476.71,239.88 L483.34,235.21 L489.98,230.47 L496.61,225.66 L503.25,220.78 L509.88,215.83 L516.52,210.80 L523.15,205.70 L529.79,200.54 L536.42,195.30 L543.06,189.99 L549.69,184.61 L556.33,179.15 L562.96,173.63 L569.60,168.04" fill="none" stroke="#ff0000" stroke-width="0.9"/>
<line x1="569.60" y1="168.04" x2="569.60" y2="390" stroke="#000" stroke-width="1.2"/>
<circle cx="569.60" cy="237.88" r="5.8" fill="#ff0000"/>
<circle cx="569.60" cy="259.93" r="5.8" fill="#ff0000"/>
<text x="329.6" y="78.8" font-family="Liberation Sans, sans-serif" font-size="17" textLength="46.4">100 %</text>
<text x="319.3" y="100.6" font-family="Liberation Sans, sans-serif" font-size="17" textLength="37.4">96 %</text>
<text x="138.3" y="352.9" font-family="Liberation Sans, sans-serif" font-size="17" textLength="37.9">32 %</text>
<rect x="778.5" y="0.5" width="180" height="28" fill="#fff" stroke="#5a5a5a" stroke-width="1"/>
<text x="784.3" y="18.8" font-family="Liberation Sans, sans-serif" font-size="17" textLength="157.9">TPE3 65-80, 3*460 V</text>
<line x1="45.45" y1="0.3" x2="959" y2="0.3" stroke="#8c8c8c" stroke-width="1.3"/>
<line x1="45.5" y1="0" x2="45.5" y2="390.5" stroke="#000" stroke-width="1.4"/>
<line x1="959" y1="0" x2="959" y2="390.45" stroke="#000" stroke-width="2"/>
<line x1="45.5" y1="390.5" x2="966" y2="390.5" stroke="#000" stroke-width="1.3" stroke-linecap="round"/>
<line x1="38.5" y1="390.45" x2="45.45" y2="390.45" stroke="#000" stroke-width="1.5" stroke-linecap="round"/>
<text x="32.6" y="395.70" font-family="Liberation Sans, sans-serif" font-size="17" text-anchor="end">0</text>
<line x1="38.5" y1="351.43" x2="45.45" y2="351.43" stroke="#000" stroke-width="1.5" stroke-linecap="round"/>
<text x="32.6" y="356.68" font-family="Liberation Sans, sans-serif" font-size="17" text-anchor="end">1</text>
<line x1="38.5" y1="312.41" x2="45.45" y2="312.41" stroke="#000" stroke-width="1.5" stroke-linecap="round"/>
<text x="32.6" y="317.66" font-family="Liberation Sans, sans-serif" font-size="17" text-anchor="end">2</text>
<line x1="38.5" y1="273.39" x2="45.45" y2="273.39" stroke="#000" stroke-width="1.5" stroke-linecap="round"/>
<text x="32.6" y="278.64" font-family="Liberation Sans, sans-serif" font-size="17" text-anchor="end">3</text>
<line x1="38.5" y1="234.37" x2="45.45" y2="234.37" stroke="#000" stroke-width="1.5" stroke-linecap="round"/>
<text x="32.6" y="239.62" font-family="Liberation Sans, sans-serif" font-size="17" text-anchor="end">4</text>
<line x1="38.5" y1="195.35" x2="45.45" y2="195.35" stroke="#000" stroke-width="1.5" stroke-linecap="round"/>
<text x="32.6" y="200.60" font-family="Liberation Sans, sans-serif" font-size="17" text-anchor="end">5</text>
<line x1="38.5" y1="156.33" x2="45.45" y2="156.33" stroke="#000" stroke-width="1.5" stroke-linecap="round"/>
<text x="32.6" y="161.58" font-family="Liberation Sans, sans-serif" font-size="17" text-anchor="end">6</text>
<line x1="38.5" y1="117.31" x2="45.45" y2="117.31" stroke="#000" stroke-width="1.5" stroke-linecap="round"/>
<text x="32.6" y="122.56" font-family="Liberation Sans, sans-serif" font-size="17" text-anchor="end">7</text>
<line x1="38.5" y1="78.29" x2="45.45" y2="78.29" stroke="#000" stroke-width="1.5" stroke-linecap="round"/>
<text x="32.6" y="83.54" font-family="Liberation Sans, sans-serif" font-size="17" text-anchor="end">8</text>
<line x1="959" y1="390.45" x2="966" y2="390.45" stroke="#000" stroke-width="1.5" stroke-linecap="round"/>
<text x="971.3" y="395.70" font-family="Liberation Sans, sans-serif" font-size="17">0</text>
<line x1="959" y1="351.43" x2="966" y2="351.43" stroke="#000" stroke-width="1.5" stroke-linecap="round"/>
<text x="971.3" y="356.68" font-family="Liberation Sans, sans-serif" font-size="17">20</text>
<line x1="959" y1="312.41" x2="966" y2="312.41" stroke="#000" stroke-width="1.5" stroke-linecap="round"/>
<text x="971.3" y="317.66" font-family="Liberation Sans, sans-serif" font-size="17">40</text>
<line x1="959" y1="273.39" x2="966" y2="273.39" stroke="#000" stroke-width="1.5" stroke-linecap="round"/>
<text x="971.3" y="278.64" font-family="Liberation Sans, sans-serif" font-size="17">60</text>
<line x1="959" y1="234.37" x2="966" y2="234.37" stroke="#000" stroke-width="1.5" stroke-linecap="round"/>
<text x="971.3" y="239.62" font-family="Liberation Sans, sans-serif" font-size="17">80</text>
<line x1="959" y1="195.35" x2="966" y2="195.35" stroke="#000" stroke-width="1.5" stroke-linecap="round"/>
<text x="971.3" y="200.60" font-family="Liberation Sans, sans-serif" font-size="17">100</text>
<line x1="45.45" y1="390.45" x2="45.45" y2="397.3" stroke="#000" stroke-width="1.5" stroke-linecap="round"/>
<text x="44.55" y="413" font-family="Liberation Sans, sans-serif" font-size="17" text-anchor="middle">0</text>
<line x1="150.70" y1="390.45" x2="150.70" y2="397.3" stroke="#000" stroke-width="1.5" stroke-linecap="round"/>
<text x="149.80" y="413" font-family="Liberation Sans, sans-serif" font-size="17" text-anchor="middle">5</text>
<line x1="255.95" y1="390.45" x2="255.95" y2="397.3" stroke="#000" stroke-width="1.5" stroke-linecap="round"/>
<text x="255.05" y="413" font-family="Liberation Sans, sans-serif" font-size="17" text-anchor="middle">10</text>
<line x1="361.20" y1="390.45" x2="361.20" y2="397.3" stroke="#000" stroke-width="1.5" stroke-linecap="round"/>
<text x="360.30" y="413" font-family="Liberation Sans, sans-serif" font-size="17" text-anchor="middle">15</text>
<line x1="466.45" y1="390.45" x2="466.45" y2="397.3" stroke="#000" stroke-width="1.5" stroke-linecap="round"/>
<text x="465.55" y="413" font-family="Liberation Sans, sans-serif" font-size="17" text-anchor="middle">20</text>
<line x1="571.70" y1="390.45" x2="571.70" y2="397.3" stroke="#000" stroke-width="1.5" stroke-linecap="round"/>
<text x="570.80" y="413" font-family="Liberation Sans, sans-serif" font-size="17" text-anchor="middle">25</text>
<line x1="676.95" y1="390.45" x2="676.95" y2="397.3" stroke="#000" stroke-width="1.5" stroke-linecap="round"/>
<text x="676.05" y="413" font-family="Liberation Sans, sans-serif" font-size="17" text-anchor="middle">30</text>
<line x1="782.20" y1="390.45" x2="782.20" y2="397.3" stroke="#000" stroke-width="1.5" stroke-linecap="round"/>
<text x="781.30" y="413" font-family="Liberation Sans, sans-serif" font-size="17" text-anchor="middle">35</text>
<line x1="887.45" y1="390.45" x2="887.45" y2="397.3" stroke="#000" stroke-width="1.5" stroke-linecap="round"/>
<text x="888" y="412.7" font-family="Liberation Sans, sans-serif" font-size="17">Q [m³/h]</text>
<text x="24.5" y="14.8" font-family="Liberation Sans, sans-serif" font-size="17" text-anchor="middle">H</text>
<text x="24.5" y="34.8" font-family="Liberation Sans, sans-serif" font-size="17" text-anchor="middle">[m]</text>
<text x="981" y="14.8" font-family="Liberation Sans, sans-serif" font-size="17" text-anchor="middle">eta</text>
<text x="981" y="34.6" font-family="Liberation Sans, sans-serif" font-size="17" text-anchor="middle">[%]</text>
<path d="M45.5,515 V423.5 H958" fill="none" stroke="#f6f6f6" stroke-width="1"/>
<path d="M45.5,781 V703.5 H958" fill="none" stroke="#f9f9f9" stroke-width="1"/>
<path d="M886.5,396 V417.5 H957.5 V396" fill="none" stroke="#f8f8f8" stroke-width="1"/>
<text x="48.2" y="439.20" font-family="Liberation Sans, sans-serif" font-size="17">Q = 24.9 m³/h</text>
<text x="48.2" y="460.80" font-family="Liberation Sans, sans-serif" font-size="17" textLength="151.88">n = 97 % / 3001 rpm</text>
<text x="48.2" y="482.40" font-family="Liberation Sans, sans-serif" font-size="17" textLength="330.54">Liquid temperature during operation = 20 °C</text>
<text x="48.2" y="504.00" font-family="Liberation Sans, sans-serif" font-size="17" textLength="142.18">Eta pump = 78.2 %</text>
<text x="433.2" y="439.20" font-family="Liberation Sans, sans-serif" font-size="17">H = 5.7 m</text>
<text x="433.2" y="460.80" font-family="Liberation Sans, sans-serif" font-size="17" textLength="171.03">Pumped liquid = Water</text>
<text x="433.2" y="482.40" font-family="Liberation Sans, sans-serif" font-size="17" textLength="166.73">Density = 998.2 kg/m³</text>
<text x="433.2" y="504.00" font-family="Liberation Sans, sans-serif" font-size="17" textLength="311.47">Eta pump+motor+freq.converter = 66.9 %</text>
<path d="M45.45,632.20 L45.45,632.20 L48.15,631.87 L50.86,631.52 L53.56,631.17 L56.26,630.81 L58.97,630.44 L61.67,630.06 L64.37,629.68 L67.08,629.29 L69.78,628.90 L72.48,628.49 L75.19,628.09 L77.89,627.67 L80.59,627.25 L83.30,626.82 L86.00,626.39 L88.70,625.95 L91.41,625.51 L94.11,625.06 L96.81,624.60 L96.81,624.60 L95.92,627.63 L95.03,630.55 L94.13,633.38 L93.24,636.09 L92.35,638.71 L91.45,641.24 L90.56,643.66 L89.67,645.99 L88.78,648.23 L87.88,650.38 L86.99,652.44 L86.10,654.42 L85.20,656.31 L84.31,658.11 L83.42,659.84 L82.53,661.48 L81.63,663.05 L80.74,664.54 L79.85,665.96 L78.95,667.31 L78.06,668.59 L77.17,669.80 L76.28,670.94 L75.38,672.02 L74.49,673.03 L73.60,673.99 L72.70,674.89 L71.81,675.73 L70.92,676.51 L70.02,677.24 L69.13,677.92 L68.24,678.55 L67.35,679.14 L66.45,679.68 L65.56,680.17 L64.67,680.62 L63.77,681.03 L62.88,681.41 L61.99,681.74 L63.99,691.60 L45.45,691.60 Z" fill="#eef6fe"/>
<path d="M96.81,624.60 L104.69,623.24 L112.56,621.85 L120.44,620.41 L128.31,618.94 L136.19,617.44 L144.07,615.91 L151.94,614.35 L159.82,612.77 L167.69,611.17 L175.57,609.55 L183.44,607.92 L191.32,606.27 L199.20,604.62 L207.07,602.96 L214.95,601.29 L222.82,599.63 L230.70,597.96 L238.57,596.30 L246.45,594.64 L254.33,592.99 L262.20,591.35 L270.08,589.72 L277.95,588.10 L285.83,586.51 L293.70,584.92 L301.58,583.36 L309.46,581.82 L317.33,580.31 L325.21,578.82 L333.08,577.36 L340.96,575.92 L348.83,574.52 L356.71,573.15 L364.59,571.81 L372.46,570.51 L380.34,569.24 L388.21,568.01 L396.09,566.82 L403.96,565.67 L411.84,564.57 L419.71,563.50 L427.59,562.48 L435.47,561.50 L443.34,560.57 L451.22,559.69 L459.09,558.85 L466.97,558.06 L474.84,557.32 L482.72,556.63 L490.60,556.00 L498.47,555.41 L506.35,554.87 L514.22,554.39 L522.10,553.96 L529.97,553.58 L537.85,553.25 L545.73,552.98 L553.60,552.76 L561.48,552.60 L569.35,552.49 L577.23,552.43 L585.10,552.43 L592.98,552.49 L600.86,552.59 L608.73,552.76 L616.61,552.97 L624.48,553.24 L632.36,553.56 L640.23,553.94 L648.11,554.36 L655.99,554.84 L663.86,555.37 L671.74,555.96 L679.61,556.59 L687.49,557.27 L695.36,558.00 L703.24,558.78 L711.11,559.60 L718.99,560.48 L726.87,561.40 L734.74,562.36 L742.62,563.36 L750.49,564.41 L758.37,565.50 L766.24,566.63 L774.12,567.80 L782.00,569.01 L789.87,570.25 L797.75,571.53 L805.62,572.84 L813.50,574.18 L821.37,575.55 L829.25,576.95 L837.13,578.38 L845.00,579.83 L852.88,581.30 L860.75,582.80 L868.63,584.32 L876.50,585.85 L846.59,597.00 L876.50,602.33 L876.50,602.33 L866.95,605.40 L857.40,608.39 L847.85,611.31 L838.30,614.17 L828.75,616.95 L819.20,619.67 L809.65,622.32 L800.10,624.91 L790.55,627.43 L781.00,629.89 L771.45,632.29 L761.90,634.62 L752.35,636.89 L742.80,639.10 L733.25,641.25 L723.70,643.35 L714.15,645.38 L704.60,647.36 L695.05,649.28 L685.50,651.15 L675.95,652.96 L666.40,654.71 L656.85,656.42 L647.30,658.07 L637.75,659.67 L628.20,661.21 L618.65,662.71 L609.10,664.16 L599.55,665.56 L590.00,666.92 L580.45,668.22 L570.90,669.49 L561.35,670.70 L551.80,671.87 L542.25,673.00 L532.70,674.09 L523.15,675.13 L513.60,676.14 L504.05,677.10 L494.50,678.02 L484.95,678.91 L475.40,679.76 L465.85,680.57 L456.30,681.34 L446.75,682.08 L437.20,682.79 L427.65,683.46 L418.10,684.10 L408.55,684.70 L399.00,685.28 L389.45,685.83 L379.90,686.34 L370.35,686.83 L360.80,687.29 L351.25,687.72 L341.70,688.13 L332.15,688.51 L322.60,688.87 L313.05,689.20 L61.99,690.50 L61.99,681.74 L62.88,681.41 L63.77,681.03 L64.67,680.62 L65.56,680.17 L66.45,679.68 L67.35,679.14 L68.24,678.55 L69.13,677.92 L70.02,677.24 L70.92,676.51 L71.81,675.73 L72.70,674.89 L73.60,673.99 L74.49,673.03 L75.38,672.02 L76.28,670.94 L77.17,669.80 L78.06,668.59 L78.95,667.31 L79.85,665.96 L80.74,664.54 L81.63,663.05 L82.53,661.48 L83.42,659.84 L84.31,658.11 L85.20,656.31 L86.10,654.42 L86.99,652.44 L87.88,650.38 L88.78,648.23 L89.67,645.99 L90.56,643.66 L91.45,641.24 L92.35,638.71 L93.24,636.09 L94.13,633.38 L95.03,630.55 L95.92,627.63 L96.81,624.60 Z" fill="#d0dce7"/>
<line x1="150.70" y1="517.9" x2="150.70" y2="692.3" stroke="#c4c8cc" stroke-opacity="0.75" stroke-width="1"/>
<line x1="255.95" y1="517.9" x2="255.95" y2="692.3" stroke="#c4c8cc" stroke-opacity="0.75" stroke-width="1"/>
<line x1="361.20" y1="517.9" x2="361.20" y2="692.3" stroke="#c4c8cc" stroke-opacity="0.75" stroke-width="1"/>
<line x1="466.45" y1="517.9" x2="466.45" y2="692.3" stroke="#c4c8cc" stroke-opacity="0.75" stroke-width="1"/>
<line x1="571.70" y1="517.9" x2="571.70" y2="692.3" stroke="#c4c8cc" stroke-opacity="0.75" stroke-width="1"/>
<line x1="676.95" y1="517.9" x2="676.95" y2="692.3" stroke="#c4c8cc" stroke-opacity="0.75" stroke-width="1"/>
<line x1="782.20" y1="517.9" x2="782.20" y2="692.3" stroke="#c4c8cc" stroke-opacity="0.75" stroke-width="1"/>
<line x1="887.45" y1="517.9" x2="887.45" y2="692.3" stroke="#c4c8cc" stroke-opacity="0.75" stroke-width="1"/>
<line x1="45" y1="670.53" x2="959" y2="670.53" stroke="#c4c8cc" stroke-opacity="0.75" stroke-width="1"/>
<line x1="45" y1="648.77" x2="959" y2="648.77" stroke="#c4c8cc" stroke-opacity="0.75" stroke-width="1"/>
<line x1="45" y1="627.00" x2="959" y2="627.00" stroke="#c4c8cc" stroke-opacity="0.75" stroke-width="1"/>
<line x1="45" y1="605.24" x2="959" y2="605.24" stroke="#c4c8cc" stroke-opacity="0.75" stroke-width="1"/>
<line x1="45" y1="583.47" x2="959" y2="583.47" stroke="#c4c8cc" stroke-opacity="0.75" stroke-width="1"/>
<line x1="45" y1="561.71" x2="959" y2="561.71" stroke="#c4c8cc" stroke-opacity="0.75" stroke-width="1"/>
<line x1="45" y1="539.94" x2="959" y2="539.94" stroke="#c4c8cc" stroke-opacity="0.75" stroke-width="1"/>
<path d="M45.45,690.30 L47.25,690.30 L49.04,690.30 L50.84,690.30 L52.63,690.30 L54.43,690.30 L56.23,690.30 L58.02,690.30 L59.82,690.30 L61.61,690.30 L63.41,690.30 L65.21,690.30 L67.00,690.30 L68.80,690.30 L70.59,690.30 L72.39,690.30 L74.19,690.30 L75.98,690.30 L77.78,690.30 L79.57,690.30 L81.37,690.30 L83.17,690.30 L84.96,690.30 L86.76,690.30 L88.55,690.30 L90.35,690.30 L92.15,690.30 L93.94,690.30 L95.74,690.30 L97.53,690.30 L99.33,690.30 L101.13,690.30 L102.92,690.30 L104.72,690.30 L106.51,690.30 L108.31,690.30 L110.10,690.30 L111.90,690.30 L113.70,690.30 L115.49,690.30 L117.29,690.30 L119.08,690.30 L120.88,690.30 L122.68,690.30 L124.47,690.30 L126.27,690.30 L128.06,690.30 L129.86,690.30 L131.66,690.30 L133.45,690.30 L135.25,690.30 L137.04,690.30 L138.84,690.30 L140.64,690.30 L142.43,690.30 L144.23,690.30 L146.02,690.30 L147.82,690.30 L149.62,690.30 L151.41,690.30 L153.21,690.30 L155.00,690.30 L156.80,690.30 L158.60,690.30 L160.39,690.30 L162.19,690.30 L163.98,690.30 L165.78,690.30 L167.58,690.30 L169.37,690.30 L171.17,690.30 L172.96,690.30 L174.76,690.30 L176.56,690.30 L178.35,690.30 L180.15,690.30 L181.94,690.30 L183.74,690.30 L185.54,690.30 L187.33,690.30 L189.13,690.30 L190.92,690.30 L192.72,690.30 L194.52,690.30 L196.31,690.30 L198.11,690.30 L199.90,690.30 L201.70,690.30 L203.50,690.30 L205.29,690.30 L207.09,690.30 L208.88,690.30 L210.68,690.30 L212.48,690.30 L214.27,690.30 L216.07,690.30 L217.86,690.30 L219.66,690.30 L221.45,690.30 L223.25,690.30 L225.05,690.30 L226.84,690.30 L228.64,690.30 L230.43,690.30 L232.23,690.30 L234.03,690.30 L235.82,690.30 L237.62,690.30 L239.41,690.30 L241.21,690.30 L243.01,690.30 L244.80,690.30 L246.60,690.30 L248.39,690.30 L250.19,690.30 L251.99,690.30 L253.78,690.30 L255.58,690.30 L257.37,690.30 L259.17,690.30 L260.97,690.30 L262.76,690.30 L264.56,690.30 L266.35,690.30 L268.15,690.30 L269.95,690.30 L271.74,690.30 L273.54,690.30 L275.33,690.30 L277.13,690.30 L278.93,690.30 L280.72,690.30 L282.52,690.30 L284.31,690.30 L286.11,690.30 L287.91,690.30 L289.70,690.30 L291.50,690.30 L293.29,690.30 L295.09,690.30 L296.89,690.30 L298.68,690.30 L300.48,690.30 L302.27,690.30 L304.07,690.30 L305.87,690.30 L307.66,690.30 L309.46,690.30 L311.25,690.30 L313.05,690.30" fill="none" stroke="#034987" stroke-width="1.1" stroke-linecap="round" stroke-linejoin="round"/>
<path d="M45.45,691.00 L47.25,691.00 L49.04,691.00 L50.84,691.00 L52.63,691.00 L54.43,691.00 L56.23,691.00 L58.02,691.00 L59.82,691.00 L61.61,691.00 L63.41,691.00 L65.21,691.00 L67.00,691.00 L68.80,691.00 L70.59,690.99 L72.39,690.99 L74.19,690.99 L75.98,690.99 L77.78,690.99 L79.57,690.99 L81.37,690.98 L83.17,690.98 L84.96,690.98 L86.76,690.97 L88.55,690.97 L90.35,690.97 L92.15,690.96 L93.94,690.96 L95.74,690.95 L97.53,690.95 L99.33,690.94 L101.13,690.94 L102.92,690.93 L104.72,690.92 L106.51,690.92 L108.31,690.91 L110.10,690.90 L111.90,690.89 L113.70,690.88 L115.49,690.87 L117.29,690.86 L119.08,690.85 L120.88,690.84 L122.68,690.83 L124.47,690.82 L126.27,690.80 L128.06,690.79 L129.86,690.78 L131.66,690.76 L133.45,690.75 L135.25,690.73 L137.04,690.71 L138.84,690.70 L140.64,690.68 L142.43,690.66 L144.23,690.64 L146.02,690.62 L147.82,690.60 L149.62,690.58 L151.41,690.56 L153.21,690.54 L155.00,690.51 L156.80,690.49 L158.60,690.46 L160.39,690.44 L162.19,690.41 L163.98,690.38 L165.78,690.35 L167.58,690.32 L169.37,690.29 L171.17,690.26 L172.96,690.23 L174.76,690.20 L176.56,690.16 L178.35,690.13 L180.15,690.09 L181.94,690.06 L183.74,690.02 L185.54,689.98 L187.33,689.94 L189.13,689.90 L190.92,689.86 L192.72,689.82 L194.52,689.77 L196.31,689.73 L198.11,689.68 L199.90,689.63 L201.70,689.58 L203.50,689.54 L205.29,689.49 L207.09,689.43 L208.88,689.38 L210.68,689.33 L212.48,689.27 L214.27,689.22 L216.07,689.16 L217.86,689.10 L219.66,689.04 L221.45,688.98 L223.25,688.91 L225.05,688.85 L226.84,688.79 L228.64,688.72 L230.43,688.65 L232.23,688.58 L234.03,688.51 L235.82,688.44 L237.62,688.37 L239.41,688.29 L241.21,688.22 L243.01,688.14 L244.80,688.06 L246.60,687.98 L248.39,687.90 L250.19,687.82 L251.99,687.73 L253.78,687.65 L255.58,687.56 L257.37,687.47 L259.17,687.38 L260.97,687.29 L262.76,687.19 L264.56,687.10 L266.35,687.00 L268.15,686.90 L269.95,686.80 L271.74,686.70 L273.54,686.60 L275.33,686.49 L277.13,686.39 L278.93,686.28 L280.72,686.17 L282.52,686.06 L284.31,685.94 L286.11,685.83 L287.91,685.71 L289.70,685.59 L291.50,685.47 L293.29,685.35 L295.09,685.23 L296.89,685.10 L298.68,684.98 L300.48,684.85 L302.27,684.72 L304.07,684.58 L305.87,684.45 L307.66,684.31 L309.46,684.17 L311.25,684.03 L313.05,683.89" fill="none" stroke="#000" stroke-width="2" stroke-linecap="round" stroke-linejoin="round"/>
<path d="M45.45,685.20 L45.55,685.20 L45.65,685.20 L45.75,685.20 L45.85,685.20 L45.95,685.20 L46.05,685.20 L46.15,685.20 L46.25,685.19 L46.35,685.19 L46.45,685.19 L46.55,685.19 L46.65,685.19 L46.75,685.19 L46.85,685.19 L46.95,685.19 L47.05,685.19 L47.15,685.19 L47.25,685.19 L47.35,685.19 L47.45,685.19 L47.55,685.19 L47.65,685.18 L47.75,685.18 L47.85,685.18 L47.95,685.18 L48.05,685.18 L48.15,685.18 L48.25,685.18 L48.35,685.18 L48.45,685.18 L48.55,685.18 L48.65,685.18 L48.75,685.18 L48.85,685.18 L48.95,685.18 L49.05,685.17 L49.15,685.17 L49.25,685.17 L49.35,685.17 L49.45,685.17 L49.55,685.17 L49.65,685.17 L49.75,685.17 L49.85,685.17 L49.95,685.17 L50.05,685.17 L50.15,685.17 L50.25,685.17 L50.35,685.17 L50.45,685.16 L50.55,685.16 L50.65,685.16 L50.75,685.16 L50.85,685.16 L50.95,685.16 L51.05,685.16 L51.15,685.16 L51.25,685.16 L51.35,685.16 L51.45,685.16 L51.55,685.16 L51.65,685.16 L51.75,685.16 L51.86,685.15 L51.96,685.15 L52.06,685.15 L52.16,685.15 L52.26,685.15 L52.36,685.15 L52.46,685.15 L52.56,685.15 L52.66,685.15 L52.76,685.15 L52.86,685.15 L52.96,685.15 L53.06,685.15 L53.16,685.15 L53.26,685.14 L53.36,685.14 L53.46,685.14 L53.56,685.14 L53.66,685.14 L53.76,685.14 L53.86,685.14 L53.96,685.14 L54.06,685.14 L54.16,685.14 L54.26,685.14 L54.36,685.14 L54.46,685.14 L54.56,685.14 L54.66,685.13 L54.76,685.13 L54.86,685.13 L54.96,685.13 L55.06,685.13 L55.16,685.13 L55.26,685.13 L55.36,685.13 L55.46,685.13 L55.56,685.13 L55.66,685.13 L55.76,685.13 L55.86,685.13 L55.96,685.13 L56.06,685.12 L56.16,685.12 L56.26,685.12 L56.36,685.12 L56.46,685.12 L56.56,685.12 L56.66,685.12 L56.76,685.12 L56.86,685.12 L56.96,685.12 L57.06,685.12 L57.16,685.12 L57.26,685.12 L57.36,685.12 L57.46,685.11 L57.56,685.11 L57.66,685.11 L57.76,685.11 L57.86,685.11 L57.96,685.11 L58.06,685.11 L58.16,685.11 L58.26,685.11 L58.36,685.11 L58.46,685.11 L58.56,685.11 L58.66,685.11 L58.76,685.11 L58.86,685.10 L58.96,685.10 L59.06,685.10 L59.16,685.10 L59.26,685.10 L59.36,685.10 L59.46,685.10 L59.56,685.10 L59.66,685.10 L59.76,685.10 L59.86,685.10 L59.96,685.10 L60.06,685.10 L60.16,685.10 L60.26,685.09 L60.36,685.09" fill="none" stroke="#034987" stroke-width="1.1" stroke-linecap="round" stroke-linejoin="round"/>
<path d="M60.36,685.09 L62.06,685.08 L63.75,685.07 L65.45,685.06 L67.15,685.05 L68.84,685.03 L70.54,685.02 L72.23,685.01 L73.93,685.00 L75.62,684.98 L77.32,684.97 L79.02,684.96 L80.71,684.95 L82.41,684.94 L84.10,684.92 L85.80,684.91 L87.50,684.90 L89.19,684.89 L90.89,684.88 L92.58,684.86 L94.28,684.85 L95.98,684.84 L97.67,684.83 L99.37,684.82 L101.06,684.80 L102.76,684.79 L104.45,684.78 L106.15,684.77 L107.85,684.76 L109.54,684.74 L111.24,684.73 L112.93,684.72 L114.63,684.71 L116.33,684.69 L118.02,684.68 L119.72,684.67 L121.41,684.66 L123.11,684.65 L124.81,684.63 L126.50,684.62 L128.20,684.61 L129.89,684.60 L131.59,684.59 L133.29,684.57 L134.98,684.56 L136.68,684.55 L138.37,684.54 L140.07,684.53 L141.76,684.51 L143.46,684.50 L145.16,684.49 L146.85,684.48 L148.55,684.47 L150.24,684.45 L151.94,684.44 L153.64,684.43 L155.33,684.42 L157.03,684.40 L158.72,684.39 L160.42,684.38 L162.12,684.37 L163.81,684.36 L165.51,684.34 L167.20,684.33 L168.90,684.32 L170.59,684.31 L172.29,684.30 L173.99,684.28 L175.68,684.27 L177.38,684.26 L179.07,684.25 L180.77,684.24 L182.47,684.22 L184.16,684.21 L185.86,684.20 L187.55,684.19 L189.25,684.18 L190.95,684.16 L192.64,684.15 L194.34,684.14 L196.03,684.13 L197.73,684.11 L199.42,684.10 L201.12,684.09 L202.82,684.08 L204.51,684.07 L206.21,684.05 L207.90,684.04 L209.60,684.03 L211.30,684.02 L212.99,684.01 L214.69,683.99 L216.38,683.98 L218.08,683.97 L219.78,683.96 L221.47,683.95 L223.17,683.93 L224.86,683.92 L226.56,683.91 L228.25,683.90 L229.95,683.89 L231.65,683.87 L233.34,683.86 L235.04,683.85 L236.73,683.84 L238.43,683.82 L240.13,683.81 L241.82,683.80 L243.52,683.79 L245.21,683.78 L246.91,683.76 L248.61,683.75 L250.30,683.74 L252.00,683.73 L253.69,683.72 L255.39,683.70 L257.09,683.69 L258.78,683.68 L260.48,683.67 L262.17,683.66 L263.87,683.64 L265.56,683.63 L267.26,683.62 L268.96,683.61 L270.65,683.60 L272.35,683.58 L274.04,683.57 L275.74,683.56 L277.44,683.55 L279.13,683.53 L280.83,683.52 L282.52,683.51 L284.22,683.50 L285.92,683.49 L287.61,683.47 L289.31,683.46 L291.00,683.45 L292.70,683.44 L294.39,683.43 L296.09,683.41 L297.79,683.40 L299.48,683.39 L301.18,683.38 L302.87,683.37 L304.57,683.35 L306.27,683.34 L307.96,683.33 L309.66,683.32 L311.35,683.31 L313.05,683.29" fill="none" stroke="#034987" stroke-width="2.2" stroke-linecap="round" stroke-linejoin="round"/>
<path d="M91.76,685.11 L97.03,684.91 L102.29,684.71 L107.56,684.50 L112.83,684.28 L118.09,684.05 L123.36,683.82 L128.63,683.58 L133.89,683.34 L139.16,683.08 L144.43,682.82 L149.69,682.56 L154.96,682.28 L160.23,681.99 L165.49,681.68 L170.76,681.36 L176.03,681.02 L181.29,680.68 L186.56,680.34 L191.83,679.99 L197.09,679.66 L202.36,679.31 L207.63,678.95 L212.89,678.59 L218.16,678.22 L223.43,677.86 L228.70,677.51 L233.96,677.17 L239.23,676.84 L244.50,676.55 L249.76,676.27 L255.03,676.00 L260.30,675.72 L265.56,675.46 L270.83,675.21 L276.10,674.99 L281.36,674.82 L286.63,674.69 L291.90,674.62 L297.16,674.56 L302.43,674.51 L307.70,674.47 L312.96,674.43 L318.23,674.40 L323.50,674.37 L328.76,674.34 L334.03,674.31 L339.30,674.29 L344.56,674.27 L349.83,674.25 L355.10,674.23 L360.36,674.21 L365.63,674.19 L370.90,674.17 L376.16,674.15 L381.43,674.12 L386.70,674.10 L391.96,674.07 L397.23,674.05 L402.50,674.02 L407.76,674.00 L413.03,673.97 L418.30,673.94 L423.56,673.91 L428.83,673.87 L434.10,673.83 L439.36,673.79 L444.63,673.74 L449.90,673.68 L455.16,673.62 L460.43,673.54 L465.70,673.46 L470.97,673.37 L476.23,673.27 L481.50,673.17 L486.77,673.05 L492.03,672.91 L497.30,672.76 L502.57,672.58 L507.83,672.38 L513.10,672.16 L518.37,671.91 L523.63,671.61 L528.90,671.25 L534.17,670.83 L539.43,670.37 L544.70,669.86 L549.97,669.31 L555.23,668.74 L560.50,668.14 L565.77,667.51 L571.03,666.88 L576.30,666.23 L581.57,665.58 L586.83,664.94 L592.10,664.29 L597.37,663.62 L602.63,662.91 L607.90,662.18 L613.17,661.41 L618.43,660.63 L623.70,659.83 L628.97,659.00 L634.23,658.16 L639.50,657.31 L644.77,656.45 L650.03,655.58 L655.30,654.67 L660.57,653.73 L665.83,652.77 L671.10,651.79 L676.37,650.79 L681.63,649.79 L686.90,648.77 L692.17,647.76 L697.43,646.74 L702.70,645.73 L707.97,644.70 L713.24,643.65 L718.50,642.59 L723.77,641.53 L729.04,640.46 L734.30,639.39 L739.57,638.33 L744.84,637.28 L750.10,636.24 L755.37,635.23 L760.64,634.24 L765.90,633.28 L771.17,632.34 L776.44,631.42 L781.70,630.49 L786.97,629.56 L792.24,628.61 L797.50,627.65 L802.77,626.65 L808.04,625.61 L813.30,624.53 L818.57,623.42 L823.84,622.29 L829.10,621.13 L834.37,619.95 L839.64,618.75 L844.90,617.52 L850.17,616.27 L855.44,615.00 L860.70,613.70 L865.97,612.38 L871.24,611.04 L876.50,609.67" fill="none" stroke="#000" stroke-width="2" stroke-linecap="round" stroke-linejoin="round"/>
<path d="M90.09,685.61 L95.17,685.43 L100.25,685.24 L105.32,685.04 L110.40,684.84 L115.48,684.63 L120.56,684.41 L125.63,684.19 L130.71,683.96 L135.79,683.73 L140.86,683.49 L145.94,683.24 L151.02,682.98 L156.10,682.71 L161.17,682.43 L166.25,682.12 L171.33,681.81 L176.40,681.49 L181.48,681.17 L186.56,680.86 L191.64,680.54 L196.71,680.22 L201.79,679.89 L206.87,679.55 L211.94,679.21 L217.02,678.87 L222.10,678.55 L227.18,678.23 L232.25,677.93 L237.33,677.65 L242.41,677.40 L247.48,677.14 L252.56,676.89 L257.64,676.64 L262.72,676.41 L267.79,676.21 L272.87,676.05 L277.95,675.93 L283.02,675.86 L288.10,675.81 L293.18,675.76 L298.26,675.72 L303.33,675.69 L308.41,675.66 L313.49,675.63 L318.56,675.60 L323.64,675.58 L328.72,675.55 L333.80,675.53 L338.87,675.51 L343.95,675.50 L349.03,675.48 L354.10,675.46 L359.18,675.44 L364.26,675.42 L369.34,675.40 L374.41,675.38 L379.49,675.36 L384.57,675.33 L389.64,675.31 L394.72,675.29 L399.80,675.26 L404.88,675.23 L409.95,675.20 L415.03,675.17 L420.11,675.13 L425.18,675.09 L430.26,675.05 L435.34,674.99 L440.42,674.93 L445.49,674.86 L450.57,674.79 L455.65,674.70 L460.72,674.61 L465.80,674.51 L470.88,674.40 L475.96,674.28 L481.03,674.13 L486.11,673.97 L491.19,673.78 L496.26,673.57 L501.34,673.34 L506.42,673.06 L511.50,672.73 L516.57,672.34 L521.65,671.91 L526.73,671.44 L531.80,670.93 L536.88,670.40 L541.96,669.84 L547.04,669.26 L552.11,668.67 L557.19,668.07 L562.27,667.46 L567.34,666.86 L572.42,666.26 L577.50,665.64 L582.58,664.98 L587.65,664.30 L592.73,663.59 L597.81,662.86 L602.88,662.11 L607.96,661.35 L613.04,660.57 L618.11,659.78 L623.19,658.98 L628.27,658.16 L633.35,657.32 L638.42,656.45 L643.50,655.56 L648.58,654.65 L653.65,653.72 L658.73,652.79 L663.81,651.84 L668.89,650.90 L673.96,649.95 L679.04,649.01 L684.12,648.05 L689.19,647.08 L694.27,646.10 L699.35,645.11 L704.43,644.12 L709.50,643.12 L714.58,642.14 L719.66,641.16 L724.73,640.20 L729.81,639.26 L734.89,638.34 L739.97,637.45 L745.04,636.58 L750.12,635.71 L755.20,634.85 L760.27,633.99 L765.35,633.11 L770.43,632.21 L775.51,631.28 L780.58,630.32 L785.66,629.31 L790.74,628.28 L795.81,627.23 L800.89,626.16 L805.97,625.06 L811.05,623.94 L816.12,622.80 L821.20,621.64 L826.28,620.45 L831.35,619.25 L836.43,618.02 L841.51,616.77 L846.59,615.51" fill="none" stroke="#000" stroke-width="3.4" stroke-linecap="round" stroke-linejoin="round"/>
<path d="M45.45,645.23 L51.03,644.48 L56.61,643.70 L62.18,642.90 L67.76,642.07 L73.34,641.22 L78.92,640.35 L84.49,639.47 L90.07,638.56 L95.65,637.64 L101.23,636.69 L106.80,635.74 L112.38,634.76 L117.96,633.78 L123.54,632.78 L129.11,631.77 L134.69,630.75 L140.27,629.71 L145.85,628.67 L151.42,627.62 L157.00,626.56 L162.58,625.50 L168.16,624.43 L173.73,623.35 L179.31,622.27 L184.89,621.19 L190.47,620.10 L196.04,619.01 L201.62,617.92 L207.20,616.83 L212.78,615.74 L218.35,614.65 L223.93,613.57 L229.51,612.48 L235.09,611.40 L240.66,610.32 L246.24,609.25 L251.82,608.18 L257.40,607.12 L262.97,606.07 L268.55,605.02 L274.13,603.98 L279.71,602.95 L285.28,601.93 L290.86,600.91 L296.44,599.91 L302.02,598.92 L307.59,597.94 L313.17,596.97 L318.75,596.01 L324.33,595.07 L329.90,594.14 L335.48,593.22 L341.06,592.32 L346.64,591.43 L352.21,590.56 L357.79,589.70 L363.37,588.86 L368.95,588.04 L374.53,587.23 L380.10,586.44 L385.68,585.67 L391.26,584.92 L396.84,584.18 L402.41,583.47 L407.99,582.77 L413.57,582.09 L419.15,581.43 L424.72,580.80 L430.30,580.18 L435.88,579.58 L441.46,579.01 L447.03,578.46 L452.61,577.92 L458.19,577.41 L463.77,576.93 L469.34,576.46 L474.92,576.02 L480.50,575.60 L486.08,575.20 L491.65,574.82 L497.23,574.47 L502.81,574.14 L508.39,573.84 L513.96,573.55 L519.54,573.30 L525.12,573.06 L530.70,572.85 L536.27,572.67 L541.85,572.50 L547.43,572.37 L553.01,572.25 L558.58,572.16 L564.16,572.09 L569.74,572.05 L575.32,572.04 L580.89,572.04 L586.47,572.07 L592.05,572.13 L597.63,572.21 L603.20,572.31 L608.78,572.44 L614.36,572.59 L619.94,572.76 L625.51,572.96 L631.09,573.18 L636.67,573.42 L642.25,573.69 L647.82,573.98 L653.40,574.30 L658.98,574.63 L664.56,574.99 L670.13,575.37 L675.71,575.78 L681.29,576.20 L686.87,576.65 L692.45,577.12 L698.02,577.61 L703.60,578.12 L709.18,578.65 L714.76,579.20 L720.33,579.78 L725.91,580.37 L731.49,580.98 L737.07,581.61 L742.64,582.26 L748.22,582.92 L753.80,583.61 L759.38,584.31 L764.95,585.03 L770.53,585.77 L776.11,586.52 L781.69,587.29 L787.26,588.08 L792.84,588.87 L798.42,589.69 L804.00,590.52 L809.57,591.36 L815.15,592.21 L820.73,593.08 L826.31,593.96 L831.88,594.85 L837.46,595.76 L843.04,596.67 L848.62,597.59 L854.19,598.52 L859.77,599.46 L865.35,600.41 L870.93,601.37 L876.50,602.33" fill="none" stroke="#034987" stroke-width="1.1" stroke-linecap="round" stroke-linejoin="round"/>
<path d="M45.45,632.20 L45.76,632.17 L46.07,632.13 L46.38,632.09 L46.69,632.05 L47.00,632.01 L47.31,631.97 L47.63,631.93 L47.94,631.89 L48.25,631.85 L48.56,631.81 L48.87,631.78 L49.18,631.74 L49.49,631.70 L49.80,631.66 L50.11,631.62 L50.42,631.58 L50.73,631.54 L51.04,631.50 L51.36,631.46 L51.67,631.42 L51.98,631.37 L52.29,631.33 L52.60,631.29 L52.91,631.25 L53.22,631.21 L53.53,631.17 L53.84,631.13 L54.15,631.09 L54.46,631.05 L54.77,631.01 L55.08,630.96 L55.40,630.92 L55.71,630.88 L56.02,630.84 L56.33,630.80 L56.64,630.76 L56.95,630.71 L57.26,630.67 L57.57,630.63 L57.88,630.59 L58.19,630.54 L58.50,630.50 L58.81,630.46 L59.13,630.42 L59.44,630.37 L59.75,630.33 L60.06,630.29 L60.37,630.24 L60.68,630.20 L60.99,630.16 L61.30,630.11 L61.61,630.07 L61.92,630.03 L62.23,629.98 L62.54,629.94 L62.86,629.90 L63.17,629.85 L63.48,629.81 L63.79,629.76 L64.10,629.72 L64.41,629.68 L64.72,629.63 L65.03,629.59 L65.34,629.54 L65.65,629.50 L65.96,629.45 L66.27,629.41 L66.58,629.36 L66.90,629.32 L67.21,629.27 L67.52,629.23 L67.83,629.18 L68.14,629.14 L68.45,629.09 L68.76,629.05 L69.07,629.00 L69.38,628.95 L69.69,628.91 L70.00,628.86 L70.31,628.82 L70.63,628.77 L70.94,628.73 L71.25,628.68 L71.56,628.63 L71.87,628.59 L72.18,628.54 L72.49,628.49 L72.80,628.45 L73.11,628.40 L73.42,628.35 L73.73,628.31 L74.04,628.26 L74.35,628.21 L74.67,628.16 L74.98,628.12 L75.29,628.07 L75.60,628.02 L75.91,627.97 L76.22,627.93 L76.53,627.88 L76.84,627.83 L77.15,627.78 L77.46,627.74 L77.77,627.69 L78.08,627.64 L78.40,627.59 L78.71,627.54 L79.02,627.50 L79.33,627.45 L79.64,627.40 L79.95,627.35 L80.26,627.30 L80.57,627.25 L80.88,627.20 L81.19,627.15 L81.50,627.11 L81.81,627.06 L82.13,627.01 L82.44,626.96 L82.75,626.91 L83.06,626.86 L83.37,626.81 L83.68,626.76 L83.99,626.71 L84.30,626.66 L84.61,626.61 L84.92,626.56 L85.23,626.51 L85.54,626.46 L85.85,626.41 L86.17,626.36 L86.48,626.31 L86.79,626.26 L87.10,626.21 L87.41,626.16 L87.72,626.11 L88.03,626.06 L88.34,626.01 L88.65,625.96 L88.96,625.91 L89.27,625.86 L89.58,625.81 L89.90,625.75 L90.21,625.70 L90.52,625.65 L90.83,625.60 L91.14,625.55 L91.45,625.50 L91.76,625.45" fill="none" stroke="#034987" stroke-width="1.1" stroke-linecap="round" stroke-linejoin="round"/>
<path d="M91.76,625.45 L97.03,624.56 L102.29,623.66 L107.56,622.74 L112.83,621.80 L118.09,620.84 L123.36,619.87 L128.63,618.88 L133.89,617.88 L139.16,616.86 L144.43,615.84 L149.69,614.80 L154.96,613.75 L160.23,612.69 L165.49,611.62 L170.76,610.54 L176.03,609.46 L181.29,608.36 L186.56,607.27 L191.83,606.17 L197.09,605.06 L202.36,603.95 L207.63,602.84 L212.89,601.73 L218.16,600.61 L223.43,599.50 L228.70,598.38 L233.96,597.27 L239.23,596.16 L244.50,595.05 L249.76,593.94 L255.03,592.84 L260.30,591.74 L265.56,590.65 L270.83,589.56 L276.10,588.48 L281.36,587.41 L286.63,586.34 L291.90,585.29 L297.16,584.24 L302.43,583.20 L307.70,582.17 L312.96,581.15 L318.23,580.14 L323.50,579.14 L328.76,578.16 L334.03,577.18 L339.30,576.22 L344.56,575.28 L349.83,574.34 L355.10,573.43 L360.36,572.52 L365.63,571.64 L370.90,570.76 L376.16,569.91 L381.43,569.07 L386.70,568.25 L391.96,567.44 L397.23,566.65 L402.50,565.89 L407.76,565.13 L413.03,564.40 L418.30,563.69 L423.56,563.00 L428.83,562.32 L434.10,561.67 L439.36,561.04 L444.63,560.42 L449.90,559.83 L455.16,559.26 L460.43,558.71 L465.70,558.19 L470.97,557.68 L476.23,557.20 L481.50,556.74 L486.77,556.30 L492.03,555.88 L497.30,555.49 L502.57,555.12 L507.83,554.78 L513.10,554.45 L518.37,554.15 L523.63,553.88 L528.90,553.63 L534.17,553.40 L539.43,553.19 L544.70,553.01 L549.97,552.86 L555.23,552.73 L560.50,552.62 L565.77,552.53 L571.03,552.47 L576.30,552.44 L581.57,552.43 L586.83,552.44 L592.10,552.48 L597.37,552.54 L602.63,552.63 L607.90,552.74 L613.17,552.87 L618.43,553.03 L623.70,553.21 L628.97,553.42 L634.23,553.65 L639.50,553.90 L644.77,554.18 L650.03,554.48 L655.30,554.80 L660.57,555.15 L665.83,555.51 L671.10,555.91 L676.37,556.32 L681.63,556.76 L686.90,557.22 L692.17,557.70 L697.43,558.20 L702.70,558.72 L707.97,559.27 L713.24,559.84 L718.50,560.42 L723.77,561.03 L729.04,561.66 L734.30,562.30 L739.57,562.97 L744.84,563.66 L750.10,564.36 L755.37,565.08 L760.64,565.82 L765.90,566.58 L771.17,567.36 L776.44,568.15 L781.70,568.96 L786.97,569.79 L792.24,570.63 L797.50,571.49 L802.77,572.36 L808.04,573.24 L813.30,574.14 L818.57,575.06 L823.84,575.98 L829.10,576.92 L834.37,577.87 L839.64,578.84 L844.90,579.81 L850.17,580.79 L855.44,581.79 L860.70,582.79 L865.97,583.80 L871.24,584.82 L876.50,585.85" fill="none" stroke="#034987" stroke-width="2.2" stroke-linecap="round" stroke-linejoin="round"/>
<path d="M45.45,637.43 L45.75,637.39 L46.05,637.35 L46.35,637.31 L46.65,637.27 L46.95,637.23 L47.25,637.19 L47.55,637.15 L47.85,637.11 L48.15,637.07 L48.45,637.03 L48.75,636.99 L49.05,636.95 L49.35,636.90 L49.64,636.86 L49.94,636.82 L50.24,636.78 L50.54,636.74 L50.84,636.70 L51.14,636.66 L51.44,636.62 L51.74,636.58 L52.04,636.54 L52.34,636.50 L52.64,636.45 L52.94,636.41 L53.24,636.37 L53.54,636.33 L53.84,636.29 L54.14,636.25 L54.44,636.20 L54.74,636.16 L55.04,636.12 L55.34,636.08 L55.64,636.04 L55.94,635.99 L56.24,635.95 L56.54,635.91 L56.84,635.87 L57.14,635.83 L57.43,635.78 L57.73,635.74 L58.03,635.70 L58.33,635.66 L58.63,635.61 L58.93,635.57 L59.23,635.53 L59.53,635.48 L59.83,635.44 L60.13,635.40 L60.43,635.36 L60.73,635.31 L61.03,635.27 L61.33,635.23 L61.63,635.18 L61.93,635.14 L62.23,635.10 L62.53,635.05 L62.83,635.01 L63.13,634.96 L63.43,634.92 L63.73,634.88 L64.03,634.83 L64.33,634.79 L64.63,634.75 L64.93,634.70 L65.22,634.66 L65.52,634.61 L65.82,634.57 L66.12,634.52 L66.42,634.48 L66.72,634.44 L67.02,634.39 L67.32,634.35 L67.62,634.30 L67.92,634.26 L68.22,634.21 L68.52,634.17 L68.82,634.12 L69.12,634.08 L69.42,634.03 L69.72,633.99 L70.02,633.94 L70.32,633.90 L70.62,633.85 L70.92,633.81 L71.22,633.76 L71.52,633.72 L71.82,633.67 L72.12,633.62 L72.42,633.58 L72.72,633.53 L73.01,633.49 L73.31,633.44 L73.61,633.40 L73.91,633.35 L74.21,633.30 L74.51,633.26 L74.81,633.21 L75.11,633.17 L75.41,633.12 L75.71,633.07 L76.01,633.03 L76.31,632.98 L76.61,632.93 L76.91,632.89 L77.21,632.84 L77.51,632.79 L77.81,632.75 L78.11,632.70 L78.41,632.65 L78.71,632.61 L79.01,632.56 L79.31,632.51 L79.61,632.47 L79.91,632.42 L80.21,632.37 L80.51,632.33 L80.80,632.28 L81.10,632.23 L81.40,632.18 L81.70,632.14 L82.00,632.09 L82.30,632.04 L82.60,631.99 L82.90,631.95 L83.20,631.90 L83.50,631.85 L83.80,631.80 L84.10,631.75 L84.40,631.71 L84.70,631.66 L85.00,631.61 L85.30,631.56 L85.60,631.51 L85.90,631.47 L86.20,631.42 L86.50,631.37 L86.80,631.32 L87.10,631.27 L87.40,631.23 L87.70,631.18 L88.00,631.13 L88.30,631.08 L88.59,631.03 L88.89,630.98 L89.19,630.93 L89.49,630.88 L89.79,630.84 L90.09,630.79" fill="none" stroke="#034987" stroke-width="1.1" stroke-linecap="round" stroke-linejoin="round"/>
<path d="M90.09,630.79 L95.17,629.95 L100.25,629.10 L105.32,628.24 L110.40,627.37 L115.48,626.48 L120.56,625.58 L125.63,624.68 L130.71,623.76 L135.79,622.83 L140.86,621.90 L145.94,620.96 L151.02,620.01 L156.10,619.06 L161.17,618.10 L166.25,617.14 L171.33,616.17 L176.40,615.20 L181.48,614.22 L186.56,613.25 L191.64,612.27 L196.71,611.29 L201.79,610.31 L206.87,609.33 L211.94,608.35 L217.02,607.37 L222.10,606.40 L227.18,605.42 L232.25,604.45 L237.33,603.49 L242.41,602.52 L247.48,601.56 L252.56,600.61 L257.64,599.66 L262.72,598.72 L267.79,597.78 L272.87,596.85 L277.95,595.93 L283.02,595.01 L288.10,594.11 L293.18,593.21 L298.26,592.32 L303.33,591.44 L308.41,590.57 L313.49,589.72 L318.56,588.87 L323.64,588.03 L328.72,587.21 L333.80,586.39 L338.87,585.59 L343.95,584.80 L349.03,584.03 L354.10,583.27 L359.18,582.52 L364.26,581.79 L369.34,581.07 L374.41,580.36 L379.49,579.67 L384.57,579.00 L389.64,578.34 L394.72,577.69 L399.80,577.07 L404.88,576.46 L409.95,575.86 L415.03,575.28 L420.11,574.72 L425.18,574.18 L430.26,573.66 L435.34,573.15 L440.42,572.66 L445.49,572.19 L450.57,571.74 L455.65,571.30 L460.72,570.89 L465.80,570.49 L470.88,570.11 L475.96,569.75 L481.03,569.42 L486.11,569.10 L491.19,568.80 L496.26,568.52 L501.34,568.26 L506.42,568.02 L511.50,567.80 L516.57,567.60 L521.65,567.42 L526.73,567.27 L531.80,567.13 L536.88,567.01 L541.96,566.92 L547.04,566.84 L552.11,566.78 L557.19,566.75 L562.27,566.74 L567.34,566.74 L572.42,566.77 L577.50,566.82 L582.58,566.89 L587.65,566.98 L592.73,567.09 L597.81,567.22 L602.88,567.37 L607.96,567.54 L613.04,567.73 L618.11,567.95 L623.19,568.18 L628.27,568.43 L633.35,568.71 L638.42,569.00 L643.50,569.32 L648.58,569.65 L653.65,570.00 L658.73,570.38 L663.81,570.77 L668.89,571.18 L673.96,571.61 L679.04,572.06 L684.12,572.53 L689.19,573.02 L694.27,573.52 L699.35,574.04 L704.43,574.59 L709.50,575.15 L714.58,575.72 L719.66,576.32 L724.73,576.93 L729.81,577.56 L734.89,578.20 L739.97,578.86 L745.04,579.54 L750.12,580.24 L755.20,580.94 L760.27,581.67 L765.35,582.41 L770.43,583.16 L775.51,583.93 L780.58,584.71 L785.66,585.51 L790.74,586.32 L795.81,587.14 L800.89,587.98 L805.97,588.82 L811.05,589.68 L816.12,590.55 L821.20,591.43 L826.28,592.33 L831.35,593.23 L836.43,594.14 L841.51,595.07 L846.59,596.00" fill="none" stroke="#034987" stroke-width="3.6" stroke-linecap="round" stroke-linejoin="round"/>
<path d="M45.45,650.09 L45.75,650.05 L46.05,650.01 L46.35,649.98 L46.65,649.94 L46.95,649.90 L47.25,649.86 L47.55,649.82 L47.85,649.78 L48.15,649.74 L48.45,649.70 L48.75,649.66 L49.05,649.62 L49.35,649.59 L49.64,649.55 L49.94,649.51 L50.24,649.47 L50.54,649.43 L50.84,649.39 L51.14,649.35 L51.44,649.31 L51.74,649.27 L52.04,649.23 L52.34,649.19 L52.64,649.15 L52.94,649.11 L53.24,649.07 L53.54,649.03 L53.84,648.99 L54.14,648.95 L54.44,648.91 L54.74,648.87 L55.04,648.83 L55.34,648.78 L55.64,648.74 L55.94,648.70 L56.24,648.66 L56.54,648.62 L56.84,648.58 L57.14,648.54 L57.43,648.50 L57.73,648.46 L58.03,648.42 L58.33,648.37 L58.63,648.33 L58.93,648.29 L59.23,648.25 L59.53,648.21 L59.83,648.17 L60.13,648.13 L60.43,648.08 L60.73,648.04 L61.03,648.00 L61.33,647.96 L61.63,647.92 L61.93,647.88 L62.23,647.83 L62.53,647.79 L62.83,647.75 L63.13,647.71 L63.43,647.67 L63.73,647.62 L64.03,647.58 L64.33,647.54 L64.63,647.50 L64.93,647.45 L65.22,647.41 L65.52,647.37 L65.82,647.33 L66.12,647.28 L66.42,647.24 L66.72,647.20 L67.02,647.15 L67.32,647.11 L67.62,647.07 L67.92,647.02 L68.22,646.98 L68.52,646.94 L68.82,646.90 L69.12,646.85 L69.42,646.81 L69.72,646.77 L70.02,646.72 L70.32,646.68 L70.62,646.63 L70.92,646.59 L71.22,646.55 L71.52,646.50 L71.82,646.46 L72.12,646.42 L72.42,646.37 L72.72,646.33 L73.01,646.28 L73.31,646.24 L73.61,646.20 L73.91,646.15 L74.21,646.11 L74.51,646.06 L74.81,646.02 L75.11,645.98 L75.41,645.93 L75.71,645.89 L76.01,645.84 L76.31,645.80 L76.61,645.75 L76.91,645.71 L77.21,645.66 L77.51,645.62 L77.81,645.57 L78.11,645.53 L78.41,645.48 L78.71,645.44 L79.01,645.39 L79.31,645.35 L79.61,645.30 L79.91,645.26 L80.21,645.21 L80.51,645.17 L80.80,645.12 L81.10,645.08 L81.40,645.03 L81.70,644.99 L82.00,644.94 L82.30,644.90 L82.60,644.85 L82.90,644.80 L83.20,644.76 L83.50,644.71 L83.80,644.67 L84.10,644.62 L84.40,644.58 L84.70,644.53 L85.00,644.48 L85.30,644.44 L85.60,644.39 L85.90,644.35 L86.20,644.30 L86.50,644.25 L86.80,644.21 L87.10,644.16 L87.40,644.11 L87.70,644.07 L88.00,644.02 L88.30,643.98 L88.59,643.93 L88.89,643.88 L89.19,643.84 L89.49,643.79 L89.79,643.74 L90.09,643.70" fill="none" stroke="#034987" stroke-width="1.1" stroke-linecap="round" stroke-linejoin="round"/>
<path d="M90.09,643.70 L95.17,642.90 L100.25,642.09 L105.32,641.27 L110.40,640.43 L115.48,639.59 L120.56,638.74 L125.63,637.88 L130.71,637.01 L135.79,636.14 L140.86,635.26 L145.94,634.37 L151.02,633.47 L156.10,632.58 L161.17,631.67 L166.25,630.77 L171.33,629.86 L176.40,628.95 L181.48,628.03 L186.56,627.12 L191.64,626.20 L196.71,625.28 L201.79,624.37 L206.87,623.45 L211.94,622.54 L217.02,621.63 L222.10,620.72 L227.18,619.81 L232.25,618.91 L237.33,618.01 L242.41,617.11 L247.48,616.22 L252.56,615.33 L257.64,614.46 L262.72,613.58 L267.79,612.71 L272.87,611.85 L277.95,611.00 L283.02,610.16 L288.10,609.32 L293.18,608.49 L298.26,607.67 L303.33,606.86 L308.41,606.06 L313.49,605.27 L318.56,604.50 L323.64,603.73 L328.72,602.97 L333.80,602.23 L338.87,601.49 L343.95,600.77 L349.03,600.06 L354.10,599.37 L359.18,598.68 L364.26,598.01 L369.34,597.36 L374.41,596.72 L379.49,596.09 L384.57,595.48 L389.64,594.88 L394.72,594.30 L399.80,593.73 L404.88,593.18 L409.95,592.64 L415.03,592.12 L420.11,591.62 L425.18,591.13 L430.26,590.66 L435.34,590.20 L440.42,589.77 L445.49,589.35 L450.57,588.94 L455.65,588.56 L460.72,588.19 L465.80,587.84 L470.88,587.51 L475.96,587.19 L481.03,586.89 L486.11,586.62 L491.19,586.36 L496.26,586.11 L501.34,585.89 L506.42,585.69 L511.50,585.50 L516.57,585.33 L521.65,585.19 L526.73,585.06 L531.80,584.94 L536.88,584.85 L541.96,584.78 L547.04,584.73 L552.11,584.69 L557.19,584.67 L562.27,584.68 L567.34,584.70 L572.42,584.74 L577.50,584.80 L582.58,584.88 L587.65,584.97 L592.73,585.09 L597.81,585.22 L602.88,585.38 L607.96,585.55 L613.04,585.74 L618.11,585.95 L623.19,586.17 L628.27,586.42 L633.35,586.68 L638.42,586.96 L643.50,587.26 L648.58,587.58 L653.65,587.91 L658.73,588.26 L663.81,588.63 L668.89,589.01 L673.96,589.42 L679.04,589.84 L684.12,590.27 L689.19,590.72 L694.27,591.19 L699.35,591.67 L704.43,592.17 L709.50,592.69 L714.58,593.22 L719.66,593.77 L724.73,594.33 L729.81,594.90 L734.89,595.49 L739.97,596.09 L745.04,596.71 L750.12,597.34 L755.20,597.98 L760.27,598.64 L765.35,599.30 L770.43,599.98 L775.51,600.68 L780.58,601.38 L785.66,602.09 L790.74,602.82 L795.81,603.56 L800.89,604.30 L805.97,605.06 L811.05,605.82 L816.12,606.60 L821.20,607.38 L826.28,608.17 L831.35,608.97 L836.43,609.77 L841.51,610.59 L846.59,611.40" fill="none" stroke="#034987" stroke-width="2.6" stroke-linecap="round" stroke-linejoin="round"/>
<circle cx="569.60" cy="566.74" r="5.8" fill="#ff0000"/>
<circle cx="569.60" cy="584.96" r="5.8" fill="#ff0000"/>
<circle cx="569.60" cy="666.51" r="5.8" fill="#ff0000"/>
<text x="668" y="580" font-family="Liberation Sans, sans-serif" font-size="17" fill="#034987">P1 (motor+freq.converter)</text>
<text x="850" y="618.5" font-family="Liberation Sans, sans-serif" font-size="17" fill="#034987">P2</text>
<line x1="45.45" y1="517.9" x2="959" y2="517.9" stroke="#8c8c8c" stroke-width="1.3"/>
<line x1="45.5" y1="517.9" x2="45.5" y2="692.5" stroke="#000" stroke-width="1.4"/>
<line x1="959" y1="517.9" x2="959" y2="692.3" stroke="#000" stroke-width="2"/>
<line x1="45.5" y1="692.5" x2="959" y2="692.5" stroke="#000" stroke-width="1.3"/>
<line x1="38.5" y1="692.30" x2="45.45" y2="692.30" stroke="#000" stroke-width="1.5" stroke-linecap="round"/>
<text x="32.6" y="697.55" font-family="Liberation Sans, sans-serif" font-size="17" text-anchor="end">0</text>
<line x1="959" y1="692.30" x2="966" y2="692.30" stroke="#000" stroke-width="1.5" stroke-linecap="round"/>
<text x="971.3" y="697.55" font-family="Liberation Sans, sans-serif" font-size="17">0</text>
<line x1="38.5" y1="670.53" x2="45.45" y2="670.53" stroke="#000" stroke-width="1.5" stroke-linecap="round"/>
<text x="32.6" y="675.78" font-family="Liberation Sans, sans-serif" font-size="17" text-anchor="end">100</text>
<line x1="959" y1="670.53" x2="966" y2="670.53" stroke="#000" stroke-width="1.5" stroke-linecap="round"/>
<text x="971.3" y="675.78" font-family="Liberation Sans, sans-serif" font-size="17">2</text>
<line x1="38.5" y1="648.77" x2="45.45" y2="648.77" stroke="#000" stroke-width="1.5" stroke-linecap="round"/>
<text x="32.6" y="654.02" font-family="Liberation Sans, sans-serif" font-size="17" text-anchor="end">200</text>
<line x1="959" y1="648.77" x2="966" y2="648.77" stroke="#000" stroke-width="1.5" stroke-linecap="round"/>
<text x="971.3" y="654.02" font-family="Liberation Sans, sans-serif" font-size="17">4</text>
<line x1="38.5" y1="627.00" x2="45.45" y2="627.00" stroke="#000" stroke-width="1.5" stroke-linecap="round"/>
<text x="32.6" y="632.25" font-family="Liberation Sans, sans-serif" font-size="17" text-anchor="end">300</text>
<line x1="959" y1="627.00" x2="966" y2="627.00" stroke="#000" stroke-width="1.5" stroke-linecap="round"/>
<text x="971.3" y="632.25" font-family="Liberation Sans, sans-serif" font-size="17">6</text>
<line x1="38.5" y1="605.24" x2="45.45" y2="605.24" stroke="#000" stroke-width="1.5" stroke-linecap="round"/>
<text x="32.6" y="610.49" font-family="Liberation Sans, sans-serif" font-size="17" text-anchor="end">400</text>
<line x1="959" y1="605.24" x2="966" y2="605.24" stroke="#000" stroke-width="1.5" stroke-linecap="round"/>
<text x="971.3" y="610.49" font-family="Liberation Sans, sans-serif" font-size="17">8</text>
<line x1="38.5" y1="583.47" x2="45.45" y2="583.47" stroke="#000" stroke-width="1.5" stroke-linecap="round"/>
<text x="32.6" y="588.72" font-family="Liberation Sans, sans-serif" font-size="17" text-anchor="end">500</text>
<line x1="959" y1="583.47" x2="966" y2="583.47" stroke="#000" stroke-width="1.5" stroke-linecap="round"/>
<text x="971.3" y="588.72" font-family="Liberation Sans, sans-serif" font-size="17">10</text>
<line x1="38.5" y1="561.71" x2="45.45" y2="561.71" stroke="#000" stroke-width="1.5" stroke-linecap="round"/>
<line x1="959" y1="561.71" x2="966" y2="561.71" stroke="#000" stroke-width="1.5" stroke-linecap="round"/>
<line x1="38.5" y1="539.94" x2="45.45" y2="539.94" stroke="#000" stroke-width="1.5" stroke-linecap="round"/>
<line x1="959" y1="539.94" x2="966" y2="539.94" stroke="#000" stroke-width="1.5" stroke-linecap="round"/>
<text x="22.5" y="532.8" font-family="Liberation Sans, sans-serif" font-size="17" text-anchor="middle">P</text>
<text x="22.5" y="552.5" font-family="Liberation Sans, sans-serif" font-size="17" text-anchor="middle">[W]</text>
<text x="990.5" y="533" font-family="Liberation Sans, sans-serif" font-size="17" text-anchor="middle">NPSH</text>
<text x="990" y="552.2" font-family="Liberation Sans, sans-serif" font-size="17" text-anchor="middle">[m]</text>
<text x="48.1" y="719.00" font-family="Liberation Sans, sans-serif" font-size="17" textLength="277.10">P1 (motor+freq.converter) = 576.9 W</text>
<text x="48.1" y="740.30" font-family="Liberation Sans, sans-serif" font-size="17" textLength="101.58">P2 = 493.2 W</text>
<text x="48.1" y="761.60" font-family="Liberation Sans, sans-serif" font-size="17" textLength="117.08">NPSH = 2.37 m</text>
</svg></body></html>
